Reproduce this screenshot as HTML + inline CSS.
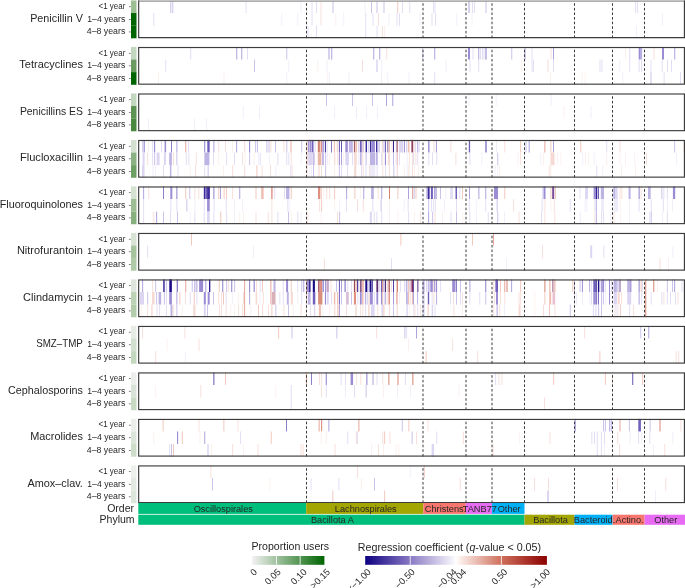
<!DOCTYPE html><html><head><meta charset="utf-8"><style>html,body{margin:0;padding:0;background:#fff;overflow:hidden}svg{display:block;filter:blur(0.25px)}</style></head><body><svg width="685" height="588" viewBox="0 0 685 588">
<rect width="685" height="588" fill="#fff"/>
<text x="82.9" y="21.60" font-size="10.5" text-anchor="end" textLength="52.699999999999996" lengthAdjust="spacingAndGlyphs" fill="#262626" font-family="Liberation Sans, sans-serif">Penicillin V</text>
<text x="125.3" y="9.05" font-size="8.3" text-anchor="end" textLength="26.7" lengthAdjust="spacingAndGlyphs" fill="#262626" font-family="Liberation Sans, sans-serif">&lt;1 year</text>
<rect x="128.9" y="6.40" width="1.8" height="0.7" fill="#444"/>
<rect x="131" y="0.45" width="5.5" height="12.65" fill="#9DBF94"/>
<text x="125.3" y="21.65" font-size="8.3" text-anchor="end" textLength="38.0" lengthAdjust="spacingAndGlyphs" fill="#262626" font-family="Liberation Sans, sans-serif">1–4 years</text>
<rect x="128.9" y="19.00" width="1.8" height="0.7" fill="#444"/>
<rect x="131" y="13.05" width="5.5" height="12.65" fill="#006400"/>
<text x="125.3" y="34.25" font-size="8.3" text-anchor="end" textLength="38.5" lengthAdjust="spacingAndGlyphs" fill="#262626" font-family="Liberation Sans, sans-serif">4–8 years</text>
<rect x="128.9" y="31.60" width="1.8" height="0.7" fill="#444"/>
<rect x="131" y="25.65" width="5.5" height="12.65" fill="#006400"/>
<rect x="170.40" y="0.45" width="0.8" height="12.60" fill="#BEB4E4"/>
<rect x="172.40" y="0.45" width="0.8" height="12.60" fill="#BEB4E4"/>
<rect x="245.60" y="0.45" width="0.8" height="12.60" fill="#DCD6F2"/>
<rect x="153.40" y="13.05" width="0.8" height="12.60" fill="#DCD6F2"/>
<rect x="300.60" y="0.45" width="0.8" height="12.60" fill="#EEEBF8"/>
<rect x="311.60" y="0.45" width="0.8" height="12.60" fill="#DCD6F2"/>
<rect x="316.00" y="0.45" width="0.8" height="12.60" fill="#DCD6F2"/>
<rect x="320.60" y="0.45" width="0.8" height="12.60" fill="#F6D9D2"/>
<rect x="332.60" y="0.45" width="0.8" height="12.60" fill="#BEB4E4"/>
<rect x="364.60" y="0.45" width="0.8" height="12.60" fill="#EEEBF8"/>
<rect x="371.00" y="0.45" width="0.8" height="12.60" fill="#BEB4E4"/>
<rect x="376.60" y="0.45" width="0.8" height="12.60" fill="#BEB4E4"/>
<rect x="383.60" y="0.45" width="0.8" height="12.60" fill="#BEB4E4"/>
<rect x="397.40" y="0.45" width="0.8" height="12.60" fill="#EEBCB0"/>
<rect x="402.20" y="0.45" width="0.8" height="12.60" fill="#DCD6F2"/>
<rect x="409.40" y="0.45" width="0.8" height="12.60" fill="#DCD6F2"/>
<rect x="281.40" y="13.05" width="0.8" height="12.60" fill="#EEEBF8"/>
<rect x="297.40" y="13.05" width="0.8" height="12.60" fill="#EEEBF8"/>
<rect x="311.60" y="13.05" width="0.8" height="12.60" fill="#DCD6F2"/>
<rect x="320.60" y="13.05" width="0.8" height="12.60" fill="#F6D9D2"/>
<rect x="335.40" y="13.05" width="0.8" height="12.60" fill="#FBEDEA"/>
<rect x="343.40" y="13.05" width="0.8" height="12.60" fill="#EEEBF8"/>
<rect x="365.40" y="13.05" width="0.8" height="12.60" fill="#DCD6F2"/>
<rect x="372.60" y="13.05" width="0.8" height="12.60" fill="#DCD6F2"/>
<rect x="378.20" y="13.05" width="0.8" height="12.60" fill="#F6D9D2"/>
<rect x="388.60" y="13.05" width="0.8" height="12.60" fill="#EEEBF8"/>
<rect x="396.60" y="13.05" width="0.8" height="12.60" fill="#DCD6F2"/>
<rect x="399.00" y="13.05" width="0.8" height="12.60" fill="#DCD6F2"/>
<rect x="307.60" y="25.65" width="0.8" height="12.60" fill="#DCD6F2"/>
<rect x="316.00" y="25.65" width="0.8" height="12.60" fill="#DCD6F2"/>
<rect x="365.40" y="25.65" width="0.8" height="12.60" fill="#DCD6F2"/>
<rect x="376.60" y="25.65" width="0.8" height="12.60" fill="#DCD6F2"/>
<rect x="382.20" y="25.65" width="0.8" height="12.60" fill="#F6D9D2"/>
<rect x="384.20" y="25.65" width="0.8" height="12.60" fill="#FBEDEA"/>
<rect x="433.00" y="0.45" width="0.8" height="12.60" fill="#DCD6F2"/>
<rect x="434.60" y="0.45" width="0.8" height="12.60" fill="#DCD6F2"/>
<rect x="468.60" y="0.45" width="0.8" height="12.60" fill="#9C8CD4"/>
<rect x="472.00" y="0.45" width="0.8" height="12.60" fill="#DCD6F2"/>
<rect x="474.00" y="0.45" width="0.8" height="12.60" fill="#DCD6F2"/>
<rect x="485.60" y="0.45" width="0.8" height="12.60" fill="#BEB4E4"/>
<rect x="419.60" y="13.05" width="0.8" height="12.60" fill="#EEEBF8"/>
<rect x="431.60" y="13.05" width="0.8" height="12.60" fill="#DCD6F2"/>
<rect x="435.00" y="13.05" width="0.8" height="12.60" fill="#DCD6F2"/>
<rect x="456.40" y="13.05" width="0.8" height="12.60" fill="#EEEBF8"/>
<rect x="471.60" y="13.05" width="0.8" height="12.60" fill="#EEEBF8"/>
<rect x="635.30" y="0.45" width="0.8" height="12.60" fill="#DCD6F2"/>
<rect x="637.30" y="0.45" width="0.8" height="12.60" fill="#DCD6F2"/>
<rect x="662.00" y="13.05" width="0.8" height="12.60" fill="#EEEBF8"/>
<rect x="635.90" y="25.65" width="0.8" height="12.60" fill="#EEEBF8"/>
<line x1="306.5" y1="38.05" x2="306.5" y2="1.60" stroke="#3a3a3a" stroke-width="1.0" stroke-dasharray="2.6 2.0"/>
<line x1="423.0" y1="38.05" x2="423.0" y2="1.60" stroke="#3a3a3a" stroke-width="1.0" stroke-dasharray="2.6 2.0"/>
<line x1="466.0" y1="38.05" x2="466.0" y2="1.60" stroke="#3a3a3a" stroke-width="1.0" stroke-dasharray="2.6 2.0"/>
<line x1="492.0" y1="38.05" x2="492.0" y2="1.60" stroke="#3a3a3a" stroke-width="1.0" stroke-dasharray="2.6 2.0"/>
<line x1="524.5" y1="38.05" x2="524.5" y2="1.60" stroke="#3a3a3a" stroke-width="1.0" stroke-dasharray="2.6 2.0"/>
<line x1="574.5" y1="38.05" x2="574.5" y2="1.60" stroke="#3a3a3a" stroke-width="1.0" stroke-dasharray="2.6 2.0"/>
<line x1="612.5" y1="38.05" x2="612.5" y2="1.60" stroke="#3a3a3a" stroke-width="1.0" stroke-dasharray="2.6 2.0"/>
<line x1="644.5" y1="38.05" x2="644.5" y2="1.60" stroke="#3a3a3a" stroke-width="1.0" stroke-dasharray="2.6 2.0"/>
<rect x="138.1" y="0" width="546.90" height="1.0" fill="#c4c4c4"/>
<rect x="139.2" y="1.0" width="544.70" height="0.8" fill="#9a9a9a"/>
<path d="M138.67,0.6 V37.67 H684.42 V0.6" fill="none" stroke="#3c3c3c" stroke-width="1.15"/>
<text x="82.9" y="68.12" font-size="10.5" text-anchor="end" textLength="63.6" lengthAdjust="spacingAndGlyphs" fill="#262626" font-family="Liberation Sans, sans-serif">Tetracyclines</text>
<text x="125.3" y="55.54" font-size="8.3" text-anchor="end" textLength="26.7" lengthAdjust="spacingAndGlyphs" fill="#262626" font-family="Liberation Sans, sans-serif">&lt;1 year</text>
<rect x="128.9" y="52.89" width="1.8" height="0.7" fill="#444"/>
<rect x="131" y="46.94" width="5.5" height="12.65" fill="#C3D6BF"/>
<text x="125.3" y="68.14" font-size="8.3" text-anchor="end" textLength="38.0" lengthAdjust="spacingAndGlyphs" fill="#262626" font-family="Liberation Sans, sans-serif">1–4 years</text>
<rect x="128.9" y="65.49" width="1.8" height="0.7" fill="#444"/>
<rect x="131" y="59.54" width="5.5" height="12.65" fill="#6A9A62"/>
<text x="125.3" y="80.74" font-size="8.3" text-anchor="end" textLength="38.5" lengthAdjust="spacingAndGlyphs" fill="#262626" font-family="Liberation Sans, sans-serif">4–8 years</text>
<rect x="128.9" y="78.09" width="1.8" height="0.7" fill="#444"/>
<rect x="131" y="72.14" width="5.5" height="12.65" fill="#006400"/>
<rect x="190.40" y="46.94" width="0.8" height="12.60" fill="#DCD6F2"/>
<rect x="236.40" y="46.94" width="0.8" height="12.60" fill="#9C8CD4"/>
<rect x="241.40" y="46.94" width="0.8" height="12.60" fill="#9C8CD4"/>
<rect x="247.20" y="46.94" width="0.8" height="12.60" fill="#DCD6F2"/>
<rect x="165.40" y="59.54" width="0.8" height="12.60" fill="#DCD6F2"/>
<rect x="254.00" y="59.54" width="0.8" height="12.60" fill="#BEB4E4"/>
<rect x="158.00" y="72.14" width="0.8" height="12.60" fill="#FBEDEA"/>
<rect x="223.60" y="72.14" width="0.8" height="12.60" fill="#FBEDEA"/>
<rect x="286.40" y="46.94" width="0.8" height="12.60" fill="#BEB4E4"/>
<rect x="328.60" y="46.94" width="0.8" height="12.60" fill="#9C8CD4"/>
<rect x="331.40" y="46.94" width="0.8" height="12.60" fill="#9C8CD4"/>
<rect x="373.40" y="46.94" width="0.8" height="12.60" fill="#9C8CD4"/>
<rect x="379.40" y="46.94" width="0.8" height="12.60" fill="#9C8CD4"/>
<rect x="386.40" y="46.94" width="0.8" height="12.60" fill="#F6D9D2"/>
<rect x="288.40" y="59.54" width="0.8" height="12.60" fill="#EEEBF8"/>
<rect x="317.40" y="59.54" width="0.8" height="12.60" fill="#FBEDEA"/>
<rect x="326.60" y="59.54" width="0.8" height="12.60" fill="#EEEBF8"/>
<rect x="362.00" y="59.54" width="0.8" height="12.60" fill="#F6D9D2"/>
<rect x="376.60" y="59.54" width="0.8" height="12.60" fill="#BEB4E4"/>
<rect x="381.40" y="59.54" width="0.8" height="12.60" fill="#EEEBF8"/>
<rect x="286.40" y="72.14" width="0.8" height="12.60" fill="#EEEBF8"/>
<rect x="327.40" y="72.14" width="0.8" height="12.60" fill="#FBEDEA"/>
<rect x="329.00" y="72.14" width="0.8" height="12.60" fill="#EEEBF8"/>
<rect x="348.60" y="72.14" width="0.8" height="12.60" fill="#EEEBF8"/>
<rect x="381.00" y="72.14" width="0.8" height="12.60" fill="#EEEBF8"/>
<rect x="387.40" y="72.14" width="0.8" height="12.60" fill="#EEEBF8"/>
<rect x="408.60" y="72.14" width="0.8" height="12.60" fill="#EEEBF8"/>
<rect x="422.40" y="46.94" width="0.8" height="12.60" fill="#BEB4E4"/>
<rect x="434.40" y="46.94" width="0.8" height="12.60" fill="#9C8CD4"/>
<rect x="468.00" y="46.94" width="2.0" height="12.60" fill="#9C8CD4"/>
<rect x="472.60" y="46.94" width="0.8" height="12.60" fill="#DCD6F2"/>
<rect x="478.40" y="46.94" width="0.8" height="12.60" fill="#9C8CD4"/>
<rect x="480.00" y="46.94" width="0.8" height="12.60" fill="#DCD6F2"/>
<rect x="482.00" y="46.94" width="0.8" height="12.60" fill="#DCD6F2"/>
<rect x="483.60" y="46.94" width="0.8" height="12.60" fill="#DCD6F2"/>
<rect x="485.60" y="46.94" width="0.8" height="12.60" fill="#7060BC"/>
<rect x="511.40" y="46.94" width="0.8" height="12.60" fill="#BEB4E4"/>
<rect x="524.60" y="46.94" width="0.8" height="12.60" fill="#9C8CD4"/>
<rect x="531.60" y="46.94" width="0.8" height="12.60" fill="#DCD6F2"/>
<rect x="445.60" y="59.54" width="0.8" height="12.60" fill="#EEEBF8"/>
<rect x="469.60" y="59.54" width="0.8" height="12.60" fill="#DCD6F2"/>
<rect x="478.40" y="59.54" width="0.8" height="12.60" fill="#DCD6F2"/>
<rect x="521.00" y="59.54" width="0.8" height="12.60" fill="#FBEDEA"/>
<rect x="531.60" y="59.54" width="0.8" height="12.60" fill="#DCD6F2"/>
<rect x="533.20" y="59.54" width="0.8" height="12.60" fill="#DCD6F2"/>
<rect x="547.00" y="59.54" width="2.0" height="12.60" fill="#FBEDEA"/>
<rect x="434.40" y="72.14" width="0.8" height="12.60" fill="#DCD6F2"/>
<rect x="550.60" y="46.94" width="0.8" height="12.60" fill="#F6D9D2"/>
<rect x="553.00" y="46.94" width="0.8" height="12.60" fill="#9C8CD4"/>
<rect x="625.00" y="46.94" width="0.8" height="12.60" fill="#FBEDEA"/>
<rect x="629.40" y="46.94" width="0.8" height="12.60" fill="#DCD6F2"/>
<rect x="638.70" y="46.94" width="2.0" height="12.60" fill="#9C8CD4"/>
<rect x="641.30" y="46.94" width="0.8" height="12.60" fill="#9C8CD4"/>
<rect x="653.60" y="46.94" width="0.8" height="12.60" fill="#F6D9D2"/>
<rect x="662.00" y="46.94" width="2.0" height="12.60" fill="#9C8CD4"/>
<rect x="674.40" y="46.94" width="0.8" height="12.60" fill="#9C8CD4"/>
<rect x="553.00" y="59.54" width="0.8" height="12.60" fill="#DCD6F2"/>
<rect x="599.60" y="59.54" width="0.8" height="12.60" fill="#DCD6F2"/>
<rect x="601.60" y="59.54" width="0.8" height="12.60" fill="#DCD6F2"/>
<rect x="619.40" y="59.54" width="0.8" height="12.60" fill="#EEEBF8"/>
<rect x="629.40" y="59.54" width="0.8" height="12.60" fill="#DCD6F2"/>
<rect x="638.70" y="59.54" width="0.8" height="12.60" fill="#DCD6F2"/>
<rect x="641.30" y="59.54" width="0.8" height="12.60" fill="#DCD6F2"/>
<rect x="650.60" y="59.54" width="0.8" height="12.60" fill="#DCD6F2"/>
<rect x="661.70" y="59.54" width="0.8" height="12.60" fill="#DCD6F2"/>
<rect x="667.00" y="59.54" width="0.8" height="12.60" fill="#DCD6F2"/>
<rect x="671.00" y="59.54" width="0.8" height="12.60" fill="#DCD6F2"/>
<rect x="550.00" y="72.14" width="0.8" height="12.60" fill="#FBEDEA"/>
<rect x="581.70" y="72.14" width="0.8" height="12.60" fill="#FBEDEA"/>
<rect x="584.70" y="72.14" width="0.8" height="12.60" fill="#FBEDEA"/>
<rect x="622.40" y="72.14" width="0.8" height="12.60" fill="#EEEBF8"/>
<rect x="650.60" y="72.14" width="0.8" height="12.60" fill="#BEB4E4"/>
<rect x="663.70" y="72.14" width="0.8" height="12.60" fill="#DCD6F2"/>
<rect x="680.00" y="72.14" width="0.8" height="12.60" fill="#DCD6F2"/>
<line x1="306.5" y1="84.54" x2="306.5" y2="48.09" stroke="#3a3a3a" stroke-width="1.0" stroke-dasharray="2.6 2.0"/>
<line x1="423.0" y1="84.54" x2="423.0" y2="48.09" stroke="#3a3a3a" stroke-width="1.0" stroke-dasharray="2.6 2.0"/>
<line x1="466.0" y1="84.54" x2="466.0" y2="48.09" stroke="#3a3a3a" stroke-width="1.0" stroke-dasharray="2.6 2.0"/>
<line x1="492.0" y1="84.54" x2="492.0" y2="48.09" stroke="#3a3a3a" stroke-width="1.0" stroke-dasharray="2.6 2.0"/>
<line x1="524.5" y1="84.54" x2="524.5" y2="48.09" stroke="#3a3a3a" stroke-width="1.0" stroke-dasharray="2.6 2.0"/>
<line x1="574.5" y1="84.54" x2="574.5" y2="48.09" stroke="#3a3a3a" stroke-width="1.0" stroke-dasharray="2.6 2.0"/>
<line x1="612.5" y1="84.54" x2="612.5" y2="48.09" stroke="#3a3a3a" stroke-width="1.0" stroke-dasharray="2.6 2.0"/>
<line x1="644.5" y1="84.54" x2="644.5" y2="48.09" stroke="#3a3a3a" stroke-width="1.0" stroke-dasharray="2.6 2.0"/>
<rect x="138.67" y="47.52" width="545.75" height="36.65" fill="none" stroke="#3c3c3c" stroke-width="1.15"/>
<text x="82.9" y="114.64" font-size="10.5" text-anchor="end" textLength="63.0" lengthAdjust="spacingAndGlyphs" fill="#262626" font-family="Liberation Sans, sans-serif">Penicillins ES</text>
<text x="125.3" y="102.03" font-size="8.3" text-anchor="end" textLength="26.7" lengthAdjust="spacingAndGlyphs" fill="#262626" font-family="Liberation Sans, sans-serif">&lt;1 year</text>
<rect x="128.9" y="99.38" width="1.8" height="0.7" fill="#444"/>
<rect x="131" y="93.43" width="5.5" height="12.65" fill="#C3D7BF"/>
<text x="125.3" y="114.63" font-size="8.3" text-anchor="end" textLength="38.0" lengthAdjust="spacingAndGlyphs" fill="#262626" font-family="Liberation Sans, sans-serif">1–4 years</text>
<rect x="128.9" y="111.98" width="1.8" height="0.7" fill="#444"/>
<rect x="131" y="106.03" width="5.5" height="12.65" fill="#5E9453"/>
<text x="125.3" y="127.23" font-size="8.3" text-anchor="end" textLength="38.5" lengthAdjust="spacingAndGlyphs" fill="#262626" font-family="Liberation Sans, sans-serif">4–8 years</text>
<rect x="128.9" y="124.58" width="1.8" height="0.7" fill="#444"/>
<rect x="131" y="118.63" width="5.5" height="12.65" fill="#4A8840"/>
<rect x="326.00" y="93.43" width="0.8" height="12.60" fill="#BEB4E4"/>
<rect x="352.00" y="93.43" width="0.8" height="12.60" fill="#BEB4E4"/>
<rect x="372.00" y="93.43" width="0.8" height="12.60" fill="#BEB4E4"/>
<rect x="386.00" y="93.43" width="0.8" height="12.60" fill="#9C8CD4"/>
<rect x="392.40" y="93.43" width="0.8" height="12.60" fill="#9C8CD4"/>
<rect x="242.80" y="106.03" width="0.8" height="12.60" fill="#EEEBF8"/>
<rect x="259.20" y="106.03" width="0.8" height="12.60" fill="#EEEBF8"/>
<rect x="334.00" y="106.03" width="0.8" height="12.60" fill="#EEEBF8"/>
<rect x="356.00" y="106.03" width="0.8" height="12.60" fill="#EEEBF8"/>
<rect x="366.00" y="106.03" width="0.8" height="12.60" fill="#EEEBF8"/>
<rect x="377.20" y="106.03" width="0.8" height="12.60" fill="#EEEBF8"/>
<rect x="148.00" y="118.63" width="0.8" height="12.60" fill="#EEEBF8"/>
<rect x="194.00" y="118.63" width="0.8" height="12.60" fill="#EEEBF8"/>
<rect x="206.00" y="118.63" width="0.8" height="12.60" fill="#EEEBF8"/>
<rect x="468.60" y="93.43" width="0.8" height="12.60" fill="#EEEBF8"/>
<rect x="495.70" y="93.43" width="0.8" height="12.60" fill="#EEEBF8"/>
<rect x="550.70" y="93.43" width="0.8" height="12.60" fill="#EEEBF8"/>
<rect x="563.50" y="106.03" width="0.8" height="12.60" fill="#FBEDEA"/>
<rect x="590.60" y="106.03" width="0.8" height="12.60" fill="#EEEBF8"/>
<line x1="306.5" y1="131.03" x2="306.5" y2="94.58" stroke="#3a3a3a" stroke-width="1.0" stroke-dasharray="2.6 2.0"/>
<line x1="423.0" y1="131.03" x2="423.0" y2="94.58" stroke="#3a3a3a" stroke-width="1.0" stroke-dasharray="2.6 2.0"/>
<line x1="466.0" y1="131.03" x2="466.0" y2="94.58" stroke="#3a3a3a" stroke-width="1.0" stroke-dasharray="2.6 2.0"/>
<line x1="492.0" y1="131.03" x2="492.0" y2="94.58" stroke="#3a3a3a" stroke-width="1.0" stroke-dasharray="2.6 2.0"/>
<line x1="524.5" y1="131.03" x2="524.5" y2="94.58" stroke="#3a3a3a" stroke-width="1.0" stroke-dasharray="2.6 2.0"/>
<line x1="574.5" y1="131.03" x2="574.5" y2="94.58" stroke="#3a3a3a" stroke-width="1.0" stroke-dasharray="2.6 2.0"/>
<line x1="612.5" y1="131.03" x2="612.5" y2="94.58" stroke="#3a3a3a" stroke-width="1.0" stroke-dasharray="2.6 2.0"/>
<line x1="644.5" y1="131.03" x2="644.5" y2="94.58" stroke="#3a3a3a" stroke-width="1.0" stroke-dasharray="2.6 2.0"/>
<rect x="138.67" y="94.01" width="545.75" height="36.65" fill="none" stroke="#3c3c3c" stroke-width="1.15"/>
<text x="82.9" y="161.16" font-size="10.5" text-anchor="end" textLength="63.0" lengthAdjust="spacingAndGlyphs" fill="#262626" font-family="Liberation Sans, sans-serif">Flucloxacillin</text>
<text x="125.3" y="148.52" font-size="8.3" text-anchor="end" textLength="26.7" lengthAdjust="spacingAndGlyphs" fill="#262626" font-family="Liberation Sans, sans-serif">&lt;1 year</text>
<rect x="128.9" y="145.87" width="1.8" height="0.7" fill="#444"/>
<rect x="131" y="139.92" width="5.5" height="12.65" fill="#D3E0D0"/>
<text x="125.3" y="161.12" font-size="8.3" text-anchor="end" textLength="38.0" lengthAdjust="spacingAndGlyphs" fill="#262626" font-family="Liberation Sans, sans-serif">1–4 years</text>
<rect x="128.9" y="158.47" width="1.8" height="0.7" fill="#444"/>
<rect x="131" y="152.52" width="5.5" height="12.65" fill="#8AB282"/>
<text x="125.3" y="173.72" font-size="8.3" text-anchor="end" textLength="38.5" lengthAdjust="spacingAndGlyphs" fill="#262626" font-family="Liberation Sans, sans-serif">4–8 years</text>
<rect x="128.9" y="171.07" width="1.8" height="0.7" fill="#444"/>
<rect x="131" y="165.12" width="5.5" height="12.65" fill="#6EA066"/>
<rect x="142.60" y="139.92" width="0.8" height="12.60" fill="#9C8CD4"/>
<rect x="144.00" y="139.92" width="0.8" height="12.60" fill="#9C8CD4"/>
<rect x="148.00" y="139.92" width="0.8" height="12.60" fill="#FBEDEA"/>
<rect x="152.30" y="139.92" width="0.8" height="12.60" fill="#DCD6F2"/>
<rect x="154.30" y="139.92" width="0.8" height="12.60" fill="#7060BC"/>
<rect x="161.20" y="139.92" width="0.8" height="12.60" fill="#DCD6F2"/>
<rect x="164.60" y="139.92" width="1.5" height="12.60" fill="#9C8CD4"/>
<rect x="171.20" y="139.92" width="0.8" height="12.60" fill="#7060BC"/>
<rect x="176.50" y="139.92" width="0.8" height="12.60" fill="#9C8CD4"/>
<rect x="185.40" y="139.92" width="0.8" height="12.60" fill="#E09080"/>
<rect x="188.20" y="139.92" width="0.8" height="12.60" fill="#DCD6F2"/>
<rect x="204.40" y="139.92" width="0.8" height="12.60" fill="#7060BC"/>
<rect x="207.30" y="139.92" width="2.4" height="12.60" fill="#7060BC"/>
<rect x="213.50" y="139.92" width="0.8" height="12.60" fill="#9C8CD4"/>
<rect x="218.40" y="139.92" width="0.8" height="12.60" fill="#F6D9D2"/>
<rect x="225.00" y="139.92" width="0.8" height="12.60" fill="#F6D9D2"/>
<rect x="142.60" y="152.52" width="2.0" height="12.60" fill="#DCD6F2"/>
<rect x="147.30" y="152.52" width="0.8" height="12.60" fill="#F6D9D2"/>
<rect x="152.30" y="152.52" width="0.8" height="12.60" fill="#DCD6F2"/>
<rect x="154.30" y="152.52" width="0.8" height="12.60" fill="#BEB4E4"/>
<rect x="156.60" y="152.52" width="3.0" height="12.60" fill="#DCD6F2"/>
<rect x="163.90" y="152.52" width="2.0" height="12.60" fill="#DCD6F2"/>
<rect x="169.20" y="152.52" width="2.7" height="12.60" fill="#BEB4E4"/>
<rect x="173.20" y="152.52" width="0.8" height="12.60" fill="#F6D9D2"/>
<rect x="176.50" y="152.52" width="0.8" height="12.60" fill="#BEB4E4"/>
<rect x="185.80" y="152.52" width="0.8" height="12.60" fill="#DCD6F2"/>
<rect x="188.50" y="152.52" width="0.8" height="12.60" fill="#DCD6F2"/>
<rect x="195.80" y="152.52" width="0.8" height="12.60" fill="#F6D9D2"/>
<rect x="204.40" y="152.52" width="5.0" height="12.60" fill="#BEB4E4"/>
<rect x="213.00" y="152.52" width="0.8" height="12.60" fill="#DCD6F2"/>
<rect x="218.40" y="152.52" width="0.8" height="12.60" fill="#FBEDEA"/>
<rect x="226.30" y="152.52" width="0.8" height="12.60" fill="#DCD6F2"/>
<rect x="142.00" y="165.12" width="2.5" height="12.60" fill="#DCD6F2"/>
<rect x="152.60" y="165.12" width="0.8" height="12.60" fill="#EEEBF8"/>
<rect x="155.30" y="165.12" width="0.8" height="12.60" fill="#EEEBF8"/>
<rect x="163.20" y="165.12" width="0.8" height="12.60" fill="#DCD6F2"/>
<rect x="169.90" y="165.12" width="1.5" height="12.60" fill="#BEB4E4"/>
<rect x="177.60" y="165.12" width="0.8" height="12.60" fill="#DCD6F2"/>
<rect x="189.80" y="165.12" width="0.8" height="12.60" fill="#FBEDEA"/>
<rect x="195.10" y="165.12" width="0.8" height="12.60" fill="#F6D9D2"/>
<rect x="204.40" y="165.12" width="0.8" height="12.60" fill="#DCD6F2"/>
<rect x="207.70" y="165.12" width="0.8" height="12.60" fill="#BEB4E4"/>
<rect x="223.00" y="165.12" width="0.8" height="12.60" fill="#FBEDEA"/>
<rect x="232.30" y="139.92" width="0.8" height="12.60" fill="#FBEDEA"/>
<rect x="236.30" y="139.92" width="0.8" height="12.60" fill="#9C8CD4"/>
<rect x="244.30" y="139.92" width="0.8" height="12.60" fill="#F6D9D2"/>
<rect x="249.30" y="139.92" width="0.8" height="12.60" fill="#7060BC"/>
<rect x="255.30" y="139.92" width="0.8" height="12.60" fill="#BEB4E4"/>
<rect x="257.20" y="139.92" width="0.8" height="12.60" fill="#BEB4E4"/>
<rect x="266.50" y="139.92" width="0.8" height="12.60" fill="#BEB4E4"/>
<rect x="268.60" y="139.92" width="0.8" height="12.60" fill="#BEB4E4"/>
<rect x="270.50" y="139.92" width="0.8" height="12.60" fill="#F6D9D2"/>
<rect x="275.20" y="139.92" width="0.8" height="12.60" fill="#BEB4E4"/>
<rect x="283.50" y="139.92" width="0.8" height="12.60" fill="#F6D9D2"/>
<rect x="286.40" y="139.92" width="0.8" height="12.60" fill="#BEB4E4"/>
<rect x="290.40" y="139.92" width="1.2" height="12.60" fill="#EEBCB0"/>
<rect x="301.40" y="139.92" width="0.8" height="12.60" fill="#BEB4E4"/>
<rect x="234.00" y="152.52" width="0.8" height="12.60" fill="#DCD6F2"/>
<rect x="242.30" y="152.52" width="0.8" height="12.60" fill="#F6D9D2"/>
<rect x="244.70" y="152.52" width="0.8" height="12.60" fill="#FBEDEA"/>
<rect x="249.30" y="152.52" width="0.8" height="12.60" fill="#BEB4E4"/>
<rect x="253.60" y="152.52" width="0.8" height="12.60" fill="#FBEDEA"/>
<rect x="258.00" y="152.52" width="0.8" height="12.60" fill="#EEEBF8"/>
<rect x="259.80" y="152.52" width="0.8" height="12.60" fill="#DCD6F2"/>
<rect x="268.90" y="152.52" width="0.8" height="12.60" fill="#EEEBF8"/>
<rect x="277.50" y="152.52" width="0.8" height="12.60" fill="#DCD6F2"/>
<rect x="286.40" y="152.52" width="0.8" height="12.60" fill="#DCD6F2"/>
<rect x="288.50" y="152.52" width="0.8" height="12.60" fill="#DCD6F2"/>
<rect x="290.80" y="152.52" width="0.8" height="12.60" fill="#F6D9D2"/>
<rect x="300.70" y="152.52" width="0.8" height="12.60" fill="#EEEBF8"/>
<rect x="232.30" y="165.12" width="0.8" height="12.60" fill="#F6D9D2"/>
<rect x="244.30" y="165.12" width="0.8" height="12.60" fill="#F6D9D2"/>
<rect x="256.20" y="165.12" width="1.4" height="12.60" fill="#F6D9D2"/>
<rect x="260.90" y="165.12" width="0.8" height="12.60" fill="#FBEDEA"/>
<rect x="262.20" y="165.12" width="0.8" height="12.60" fill="#FBEDEA"/>
<rect x="270.20" y="165.12" width="0.8" height="12.60" fill="#F6D9D2"/>
<rect x="275.50" y="165.12" width="0.8" height="12.60" fill="#EEEBF8"/>
<rect x="290.40" y="165.12" width="0.8" height="12.60" fill="#DCD6F2"/>
<rect x="291.70" y="165.12" width="0.8" height="12.60" fill="#F6D9D2"/>
<rect x="450.50" y="139.92" width="0.8" height="12.60" fill="#F6D9D2"/>
<rect x="468.80" y="139.92" width="1.3" height="12.60" fill="#7060BC"/>
<rect x="485.40" y="139.92" width="1.2" height="12.60" fill="#7060BC"/>
<rect x="496.00" y="139.92" width="0.8" height="12.60" fill="#EEEBF8"/>
<rect x="455.50" y="152.52" width="0.8" height="12.60" fill="#F6D9D2"/>
<rect x="469.50" y="152.52" width="0.8" height="12.60" fill="#DCD6F2"/>
<rect x="481.40" y="152.52" width="0.8" height="12.60" fill="#EEEBF8"/>
<rect x="497.40" y="152.52" width="0.8" height="12.60" fill="#BEB4E4"/>
<rect x="494.70" y="165.12" width="0.8" height="12.60" fill="#EEEBF8"/>
<rect x="497.40" y="165.12" width="0.8" height="12.60" fill="#EEEBF8"/>
<rect x="499.30" y="165.12" width="0.8" height="12.60" fill="#FBEDEA"/>
<rect x="504.40" y="139.92" width="0.8" height="12.60" fill="#F6D9D2"/>
<rect x="520.30" y="139.92" width="0.8" height="12.60" fill="#EEBCB0"/>
<rect x="525.60" y="139.92" width="0.8" height="12.60" fill="#BEB4E4"/>
<rect x="528.60" y="139.92" width="1.3" height="12.60" fill="#BEB4E4"/>
<rect x="544.50" y="139.92" width="0.8" height="12.60" fill="#E09080"/>
<rect x="550.50" y="139.92" width="0.8" height="12.60" fill="#EEBCB0"/>
<rect x="553.10" y="139.92" width="0.8" height="12.60" fill="#9C8CD4"/>
<rect x="580.40" y="139.92" width="0.8" height="12.60" fill="#EEBCB0"/>
<rect x="517.70" y="152.52" width="0.8" height="12.60" fill="#FBEDEA"/>
<rect x="520.30" y="152.52" width="0.8" height="12.60" fill="#F6D9D2"/>
<rect x="540.50" y="152.52" width="0.8" height="12.60" fill="#EEEBF8"/>
<rect x="543.20" y="152.52" width="0.8" height="12.60" fill="#FBEDEA"/>
<rect x="550.50" y="152.52" width="4.0" height="12.60" fill="#F6D9D2"/>
<rect x="557.10" y="152.52" width="0.8" height="12.60" fill="#FBEDEA"/>
<rect x="560.50" y="152.52" width="0.8" height="12.60" fill="#FBEDEA"/>
<rect x="582.40" y="152.52" width="0.8" height="12.60" fill="#EEEBF8"/>
<rect x="585.00" y="152.52" width="0.8" height="12.60" fill="#FBEDEA"/>
<rect x="588.40" y="152.52" width="0.8" height="12.60" fill="#FBEDEA"/>
<rect x="548.50" y="165.12" width="2.7" height="12.60" fill="#FBEDEA"/>
<rect x="606.40" y="139.92" width="0.8" height="12.60" fill="#DCD6F2"/>
<rect x="619.60" y="139.92" width="0.8" height="12.60" fill="#F6D9D2"/>
<rect x="674.30" y="139.92" width="0.8" height="12.60" fill="#BEB4E4"/>
<rect x="683.00" y="139.92" width="0.8" height="12.60" fill="#FBEDEA"/>
<rect x="593.70" y="152.52" width="0.8" height="12.60" fill="#EEEBF8"/>
<rect x="606.40" y="152.52" width="0.8" height="12.60" fill="#FBEDEA"/>
<rect x="619.60" y="152.52" width="0.8" height="12.60" fill="#FBEDEA"/>
<rect x="625.00" y="152.52" width="0.8" height="12.60" fill="#FBEDEA"/>
<rect x="634.40" y="152.52" width="0.8" height="12.60" fill="#FBEDEA"/>
<rect x="646.00" y="152.52" width="0.8" height="12.60" fill="#F6D9D2"/>
<rect x="676.30" y="152.52" width="0.8" height="12.60" fill="#EEEBF8"/>
<rect x="596.40" y="165.12" width="0.8" height="12.60" fill="#DCD6F2"/>
<rect x="602.40" y="165.12" width="0.8" height="12.60" fill="#EEEBF8"/>
<rect x="621.20" y="165.12" width="0.8" height="12.60" fill="#FBEDEA"/>
<rect x="635.30" y="165.12" width="0.8" height="12.60" fill="#FBEDEA"/>
<rect x="306.70" y="139.92" width="0.8" height="12.60" fill="#EEBCB0"/>
<rect x="308.10" y="139.92" width="1.4" height="12.60" fill="#9C8CD4"/>
<rect x="309.90" y="139.92" width="1.4" height="12.60" fill="#9C8CD4"/>
<rect x="311.70" y="139.92" width="1.8" height="12.60" fill="#7060BC"/>
<rect x="314.60" y="139.92" width="1.0" height="12.60" fill="#DCD6F2"/>
<rect x="317.80" y="139.92" width="2.1" height="12.60" fill="#D08070"/>
<rect x="320.60" y="139.92" width="1.4" height="12.60" fill="#E09080"/>
<rect x="322.40" y="139.92" width="1.4" height="12.60" fill="#9C8CD4"/>
<rect x="324.90" y="139.92" width="1.0" height="12.60" fill="#3C2C9C"/>
<rect x="326.70" y="139.92" width="0.8" height="12.60" fill="#DCD6F2"/>
<rect x="331.00" y="139.92" width="0.8" height="12.60" fill="#7060BC"/>
<rect x="333.90" y="139.92" width="1.0" height="12.60" fill="#EEBCB0"/>
<rect x="336.70" y="139.92" width="1.4" height="12.60" fill="#F6D9D2"/>
<rect x="338.90" y="139.92" width="1.1" height="12.60" fill="#7060BC"/>
<rect x="341.00" y="139.92" width="0.8" height="12.60" fill="#3C2C9C"/>
<rect x="345.30" y="139.92" width="2.5" height="12.60" fill="#9C8CD4"/>
<rect x="348.90" y="139.92" width="2.0" height="12.60" fill="#BEB4E4"/>
<rect x="306.70" y="152.52" width="0.8" height="12.60" fill="#EEBCB0"/>
<rect x="308.10" y="152.52" width="4.7" height="12.60" fill="#DCD6F2"/>
<rect x="313.10" y="152.52" width="1.5" height="12.60" fill="#BEB4E4"/>
<rect x="317.80" y="152.52" width="3.6" height="12.60" fill="#EBB8A8"/>
<rect x="322.10" y="152.52" width="1.8" height="12.60" fill="#BEB4E4"/>
<rect x="325.30" y="152.52" width="0.8" height="12.60" fill="#BEB4E4"/>
<rect x="327.10" y="152.52" width="0.8" height="12.60" fill="#EEEBF8"/>
<rect x="328.90" y="152.52" width="0.8" height="12.60" fill="#FBEDEA"/>
<rect x="334.20" y="152.52" width="1.1" height="12.60" fill="#F6D9D2"/>
<rect x="337.40" y="152.52" width="0.8" height="12.60" fill="#F6D9D2"/>
<rect x="338.90" y="152.52" width="1.0" height="12.60" fill="#9C8CD4"/>
<rect x="341.00" y="152.52" width="0.8" height="12.60" fill="#9C8CD4"/>
<rect x="342.80" y="152.52" width="0.8" height="12.60" fill="#FBEDEA"/>
<rect x="345.30" y="152.52" width="3.6" height="12.60" fill="#DCD6F2"/>
<rect x="306.70" y="165.12" width="0.8" height="12.60" fill="#F6D9D2"/>
<rect x="308.90" y="165.12" width="0.8" height="12.60" fill="#EEEBF8"/>
<rect x="311.00" y="165.12" width="0.8" height="12.60" fill="#EEEBF8"/>
<rect x="313.10" y="165.12" width="0.8" height="12.60" fill="#BEB4E4"/>
<rect x="318.50" y="165.12" width="1.1" height="12.60" fill="#F6D9D2"/>
<rect x="321.00" y="165.12" width="0.8" height="12.60" fill="#F6D9D2"/>
<rect x="325.30" y="165.12" width="0.8" height="12.60" fill="#BEB4E4"/>
<rect x="334.20" y="165.12" width="0.8" height="12.60" fill="#FBEDEA"/>
<rect x="338.90" y="165.12" width="0.8" height="12.60" fill="#BEB4E4"/>
<rect x="341.00" y="165.12" width="0.8" height="12.60" fill="#DCD6F2"/>
<rect x="347.10" y="165.12" width="0.8" height="12.60" fill="#DCD6F2"/>
<rect x="351.00" y="139.92" width="1.8" height="12.60" fill="#BEB4E4"/>
<rect x="353.90" y="139.92" width="1.1" height="12.60" fill="#A06070"/>
<rect x="355.30" y="139.92" width="1.8" height="12.60" fill="#EEBCB0"/>
<rect x="358.10" y="139.92" width="1.1" height="12.60" fill="#DCD6F2"/>
<rect x="359.90" y="139.92" width="1.8" height="12.60" fill="#7060BC"/>
<rect x="362.10" y="139.92" width="1.8" height="12.60" fill="#E0C8D8"/>
<rect x="365.60" y="139.92" width="1.4" height="12.60" fill="#3C2C9C"/>
<rect x="367.80" y="139.92" width="1.1" height="12.60" fill="#DCD6F2"/>
<rect x="369.90" y="139.92" width="1.4" height="12.60" fill="#3C2C9C"/>
<rect x="371.40" y="139.92" width="3.5" height="12.60" fill="#9C8CD4"/>
<rect x="376.00" y="139.92" width="1.4" height="12.60" fill="#3C2C9C"/>
<rect x="378.50" y="139.92" width="1.1" height="12.60" fill="#BEB4E4"/>
<rect x="381.70" y="139.92" width="1.1" height="12.60" fill="#F6D9D2"/>
<rect x="383.50" y="139.92" width="0.8" height="12.60" fill="#BEB4E4"/>
<rect x="384.90" y="139.92" width="1.1" height="12.60" fill="#7060BC"/>
<rect x="387.10" y="139.92" width="1.4" height="12.60" fill="#A890B0"/>
<rect x="388.90" y="139.92" width="1.0" height="12.60" fill="#EEBCB0"/>
<rect x="391.70" y="139.92" width="0.8" height="12.60" fill="#F6D9D2"/>
<rect x="393.10" y="139.92" width="0.9" height="12.60" fill="#1A0A85"/>
<rect x="395.60" y="139.92" width="0.8" height="12.60" fill="#FBEDEA"/>
<rect x="352.10" y="152.52" width="0.8" height="12.60" fill="#DCD6F2"/>
<rect x="354.20" y="152.52" width="2.5" height="12.60" fill="#F6D9D2"/>
<rect x="358.10" y="152.52" width="0.8" height="12.60" fill="#EEEBF8"/>
<rect x="359.90" y="152.52" width="1.8" height="12.60" fill="#BEB4E4"/>
<rect x="362.40" y="152.52" width="0.8" height="12.60" fill="#F6D9D2"/>
<rect x="365.30" y="152.52" width="1.8" height="12.60" fill="#DCD6F2"/>
<rect x="369.90" y="152.52" width="5.4" height="12.60" fill="#BEB4E4"/>
<rect x="376.00" y="152.52" width="1.8" height="12.60" fill="#BEB4E4"/>
<rect x="381.00" y="152.52" width="0.8" height="12.60" fill="#DCD6F2"/>
<rect x="382.40" y="152.52" width="0.8" height="12.60" fill="#F6D9D2"/>
<rect x="384.90" y="152.52" width="1.1" height="12.60" fill="#9C8CD4"/>
<rect x="388.10" y="152.52" width="1.8" height="12.60" fill="#F6D9D2"/>
<rect x="393.10" y="152.52" width="0.9" height="12.60" fill="#BEB4E4"/>
<rect x="395.60" y="152.52" width="0.8" height="12.60" fill="#FBEDEA"/>
<rect x="354.20" y="165.12" width="2.1" height="12.60" fill="#F6D9D2"/>
<rect x="361.00" y="165.12" width="0.8" height="12.60" fill="#DCD6F2"/>
<rect x="362.80" y="165.12" width="0.8" height="12.60" fill="#F6D9D2"/>
<rect x="365.60" y="165.12" width="0.8" height="12.60" fill="#DCD6F2"/>
<rect x="369.20" y="165.12" width="0.8" height="12.60" fill="#F6D9D2"/>
<rect x="369.90" y="165.12" width="5.4" height="12.60" fill="#EEEBF8"/>
<rect x="376.70" y="165.12" width="0.8" height="12.60" fill="#DCD6F2"/>
<rect x="382.40" y="165.12" width="0.8" height="12.60" fill="#F6D9D2"/>
<rect x="385.30" y="165.12" width="0.8" height="12.60" fill="#DCD6F2"/>
<rect x="388.90" y="165.12" width="0.8" height="12.60" fill="#F6D9D2"/>
<rect x="393.50" y="165.12" width="0.8" height="12.60" fill="#BEB4E4"/>
<rect x="396.00" y="139.92" width="0.7" height="12.60" fill="#BEB4E4"/>
<rect x="396.70" y="139.92" width="1.1" height="12.60" fill="#B06068"/>
<rect x="398.90" y="139.92" width="4.2" height="12.60" fill="#DCD6F2"/>
<rect x="403.90" y="139.92" width="1.0" height="12.60" fill="#9C8CD4"/>
<rect x="406.00" y="139.92" width="1.4" height="12.60" fill="#DCD6F2"/>
<rect x="408.10" y="139.92" width="1.4" height="12.60" fill="#EEBCB0"/>
<rect x="411.40" y="139.92" width="1.8" height="12.60" fill="#904060"/>
<rect x="413.50" y="139.92" width="1.1" height="12.60" fill="#F6D9D2"/>
<rect x="414.90" y="139.92" width="0.8" height="12.60" fill="#DCD6F2"/>
<rect x="417.10" y="139.92" width="1.0" height="12.60" fill="#BEB4E4"/>
<rect x="418.50" y="139.92" width="1.1" height="12.60" fill="#DCD6F2"/>
<rect x="428.10" y="139.92" width="1.4" height="12.60" fill="#9C8CD4"/>
<rect x="433.50" y="139.92" width="0.8" height="12.60" fill="#F6D9D2"/>
<rect x="434.60" y="139.92" width="0.8" height="12.60" fill="#EEEBF8"/>
<rect x="436.00" y="139.92" width="0.8" height="12.60" fill="#9C8CD4"/>
<rect x="396.40" y="152.52" width="0.8" height="12.60" fill="#DCD6F2"/>
<rect x="397.10" y="152.52" width="0.8" height="12.60" fill="#EEBCB0"/>
<rect x="399.20" y="152.52" width="0.8" height="12.60" fill="#DCD6F2"/>
<rect x="406.70" y="152.52" width="0.8" height="12.60" fill="#EEEBF8"/>
<rect x="408.90" y="152.52" width="0.8" height="12.60" fill="#F6D9D2"/>
<rect x="412.10" y="152.52" width="0.8" height="12.60" fill="#F6D9D2"/>
<rect x="413.10" y="152.52" width="0.8" height="12.60" fill="#DCD6F2"/>
<rect x="414.60" y="152.52" width="2.0" height="12.60" fill="#FBEDEA"/>
<rect x="417.40" y="152.52" width="0.8" height="12.60" fill="#DCD6F2"/>
<rect x="428.50" y="152.52" width="0.8" height="12.60" fill="#DCD6F2"/>
<rect x="432.10" y="152.52" width="0.8" height="12.60" fill="#DCD6F2"/>
<rect x="436.40" y="152.52" width="0.8" height="12.60" fill="#DCD6F2"/>
<rect x="396.40" y="165.12" width="0.8" height="12.60" fill="#EEEBF8"/>
<rect x="397.10" y="165.12" width="0.8" height="12.60" fill="#F6D9D2"/>
<rect x="403.90" y="165.12" width="0.8" height="12.60" fill="#FBEDEA"/>
<rect x="406.70" y="165.12" width="0.8" height="12.60" fill="#EEEBF8"/>
<rect x="408.50" y="165.12" width="0.8" height="12.60" fill="#F6D9D2"/>
<rect x="412.10" y="165.12" width="0.8" height="12.60" fill="#F6D9D2"/>
<rect x="414.20" y="165.12" width="0.8" height="12.60" fill="#FBEDEA"/>
<rect x="418.10" y="165.12" width="0.8" height="12.60" fill="#FBEDEA"/>
<line x1="306.5" y1="177.52" x2="306.5" y2="141.07" stroke="#3a3a3a" stroke-width="1.0" stroke-dasharray="2.6 2.0"/>
<line x1="423.0" y1="177.52" x2="423.0" y2="141.07" stroke="#3a3a3a" stroke-width="1.0" stroke-dasharray="2.6 2.0"/>
<line x1="466.0" y1="177.52" x2="466.0" y2="141.07" stroke="#3a3a3a" stroke-width="1.0" stroke-dasharray="2.6 2.0"/>
<line x1="492.0" y1="177.52" x2="492.0" y2="141.07" stroke="#3a3a3a" stroke-width="1.0" stroke-dasharray="2.6 2.0"/>
<line x1="524.5" y1="177.52" x2="524.5" y2="141.07" stroke="#3a3a3a" stroke-width="1.0" stroke-dasharray="2.6 2.0"/>
<line x1="574.5" y1="177.52" x2="574.5" y2="141.07" stroke="#3a3a3a" stroke-width="1.0" stroke-dasharray="2.6 2.0"/>
<line x1="612.5" y1="177.52" x2="612.5" y2="141.07" stroke="#3a3a3a" stroke-width="1.0" stroke-dasharray="2.6 2.0"/>
<line x1="644.5" y1="177.52" x2="644.5" y2="141.07" stroke="#3a3a3a" stroke-width="1.0" stroke-dasharray="2.6 2.0"/>
<rect x="138.67" y="140.49" width="545.75" height="36.65" fill="none" stroke="#3c3c3c" stroke-width="1.15"/>
<text x="82.9" y="207.68" font-size="10.5" text-anchor="end" textLength="83.2" lengthAdjust="spacingAndGlyphs" fill="#262626" font-family="Liberation Sans, sans-serif">Fluoroquinolones</text>
<text x="125.3" y="195.01" font-size="8.3" text-anchor="end" textLength="26.7" lengthAdjust="spacingAndGlyphs" fill="#262626" font-family="Liberation Sans, sans-serif">&lt;1 year</text>
<rect x="128.9" y="192.36" width="1.8" height="0.7" fill="#444"/>
<rect x="131" y="186.41" width="5.5" height="12.65" fill="#D5E2D2"/>
<text x="125.3" y="207.61" font-size="8.3" text-anchor="end" textLength="38.0" lengthAdjust="spacingAndGlyphs" fill="#262626" font-family="Liberation Sans, sans-serif">1–4 years</text>
<rect x="128.9" y="204.96" width="1.8" height="0.7" fill="#444"/>
<rect x="131" y="199.01" width="5.5" height="12.65" fill="#9DBE95"/>
<text x="125.3" y="220.21" font-size="8.3" text-anchor="end" textLength="38.5" lengthAdjust="spacingAndGlyphs" fill="#262626" font-family="Liberation Sans, sans-serif">4–8 years</text>
<rect x="128.9" y="217.56" width="1.8" height="0.7" fill="#444"/>
<rect x="131" y="211.61" width="5.5" height="12.65" fill="#87B07F"/>
<rect x="143.30" y="186.41" width="0.8" height="12.60" fill="#9C8CD4"/>
<rect x="148.40" y="186.41" width="0.8" height="12.60" fill="#F6D9D2"/>
<rect x="163.20" y="186.41" width="0.8" height="12.60" fill="#7060BC"/>
<rect x="170.30" y="186.41" width="2.0" height="12.60" fill="#9C8CD4"/>
<rect x="176.50" y="186.41" width="0.8" height="12.60" fill="#7060BC"/>
<rect x="185.40" y="186.41" width="0.8" height="12.60" fill="#EEBCB0"/>
<rect x="189.40" y="186.41" width="0.8" height="12.60" fill="#BEB4E4"/>
<rect x="194.50" y="186.41" width="0.8" height="12.60" fill="#F6D9D2"/>
<rect x="198.40" y="186.41" width="0.8" height="12.60" fill="#F6D9D2"/>
<rect x="203.80" y="186.41" width="1.5" height="12.60" fill="#3C2C9C"/>
<rect x="205.30" y="186.41" width="1.8" height="12.60" fill="#7060BC"/>
<rect x="207.10" y="186.41" width="2.8" height="12.60" fill="#3C2C9C"/>
<rect x="213.50" y="186.41" width="0.8" height="12.60" fill="#7060BC"/>
<rect x="218.40" y="186.41" width="0.8" height="12.60" fill="#EEBCB0"/>
<rect x="220.10" y="186.41" width="0.8" height="12.60" fill="#9C8CD4"/>
<rect x="223.70" y="186.41" width="0.8" height="12.60" fill="#EEBCB0"/>
<rect x="226.00" y="186.41" width="0.8" height="12.60" fill="#EEBCB0"/>
<rect x="143.30" y="199.01" width="0.8" height="12.60" fill="#DCD6F2"/>
<rect x="170.50" y="199.01" width="0.8" height="12.60" fill="#DCD6F2"/>
<rect x="176.50" y="199.01" width="0.8" height="12.60" fill="#DCD6F2"/>
<rect x="186.50" y="199.01" width="0.8" height="12.60" fill="#BEB4E4"/>
<rect x="194.50" y="199.01" width="0.8" height="12.60" fill="#EEEBF8"/>
<rect x="203.80" y="199.01" width="0.8" height="12.60" fill="#DCD6F2"/>
<rect x="207.10" y="199.01" width="2.6" height="12.60" fill="#9C8CD4"/>
<rect x="213.70" y="199.01" width="0.8" height="12.60" fill="#DCD6F2"/>
<rect x="225.70" y="199.01" width="0.8" height="12.60" fill="#DCD6F2"/>
<rect x="143.30" y="211.61" width="0.8" height="12.60" fill="#DCD6F2"/>
<rect x="152.60" y="211.61" width="2.0" height="12.60" fill="#FBEDEA"/>
<rect x="156.30" y="211.61" width="0.8" height="12.60" fill="#9C8CD4"/>
<rect x="163.20" y="211.61" width="0.8" height="12.60" fill="#BEB4E4"/>
<rect x="170.20" y="211.61" width="0.8" height="12.60" fill="#DCD6F2"/>
<rect x="177.20" y="211.61" width="0.8" height="12.60" fill="#BEB4E4"/>
<rect x="189.80" y="211.61" width="0.8" height="12.60" fill="#EEEBF8"/>
<rect x="194.50" y="211.61" width="0.8" height="12.60" fill="#DCD6F2"/>
<rect x="203.80" y="211.61" width="0.8" height="12.60" fill="#DCD6F2"/>
<rect x="207.10" y="211.61" width="2.6" height="12.60" fill="#DCD6F2"/>
<rect x="213.50" y="211.61" width="0.8" height="12.60" fill="#DCD6F2"/>
<rect x="220.40" y="211.61" width="0.8" height="12.60" fill="#EEBCB0"/>
<rect x="226.30" y="211.61" width="0.8" height="12.60" fill="#DCD6F2"/>
<rect x="232.30" y="186.41" width="0.8" height="12.60" fill="#F6D9D2"/>
<rect x="239.40" y="186.41" width="0.8" height="12.60" fill="#9C8CD4"/>
<rect x="255.60" y="186.41" width="0.8" height="12.60" fill="#EEBCB0"/>
<rect x="261.20" y="186.41" width="2.4" height="12.60" fill="#EEBCB0"/>
<rect x="271.20" y="186.41" width="1.4" height="12.60" fill="#E09080"/>
<rect x="274.40" y="186.41" width="0.8" height="12.60" fill="#DCD6F2"/>
<rect x="284.10" y="186.41" width="0.8" height="12.60" fill="#DCD6F2"/>
<rect x="286.10" y="186.41" width="3.3" height="12.60" fill="#BEB4E4"/>
<rect x="290.80" y="186.41" width="0.8" height="12.60" fill="#EEBCB0"/>
<rect x="318.00" y="186.41" width="2.0" height="12.60" fill="#E09080"/>
<rect x="234.00" y="199.01" width="0.8" height="12.60" fill="#EEEBF8"/>
<rect x="242.30" y="199.01" width="0.8" height="12.60" fill="#EEEBF8"/>
<rect x="271.50" y="199.01" width="0.8" height="12.60" fill="#F6D9D2"/>
<rect x="287.50" y="199.01" width="0.8" height="12.60" fill="#DCD6F2"/>
<rect x="289.40" y="199.01" width="0.8" height="12.60" fill="#EEEBF8"/>
<rect x="319.30" y="199.01" width="0.8" height="12.60" fill="#F6D9D2"/>
<rect x="234.00" y="211.61" width="0.8" height="12.60" fill="#EEEBF8"/>
<rect x="239.40" y="211.61" width="0.8" height="12.60" fill="#FBEDEA"/>
<rect x="243.00" y="211.61" width="0.8" height="12.60" fill="#FBEDEA"/>
<rect x="255.60" y="211.61" width="0.8" height="12.60" fill="#F6D9D2"/>
<rect x="267.80" y="211.61" width="0.8" height="12.60" fill="#F6D9D2"/>
<rect x="271.50" y="211.61" width="0.8" height="12.60" fill="#F6D9D2"/>
<rect x="277.50" y="211.61" width="0.8" height="12.60" fill="#DCD6F2"/>
<rect x="288.10" y="211.61" width="0.8" height="12.60" fill="#BEB4E4"/>
<rect x="290.80" y="211.61" width="0.8" height="12.60" fill="#FBEDEA"/>
<rect x="297.40" y="211.61" width="0.8" height="12.60" fill="#DCD6F2"/>
<rect x="300.70" y="211.61" width="0.8" height="12.60" fill="#EEEBF8"/>
<rect x="307.40" y="211.61" width="0.8" height="12.60" fill="#F6D9D2"/>
<rect x="320.00" y="186.41" width="2.0" height="12.60" fill="#F6D9D2"/>
<rect x="323.30" y="186.41" width="0.8" height="12.60" fill="#FBEDEA"/>
<rect x="326.40" y="186.41" width="0.8" height="12.60" fill="#F6D9D2"/>
<rect x="329.30" y="186.41" width="0.8" height="12.60" fill="#F6D9D2"/>
<rect x="334.30" y="186.41" width="0.8" height="12.60" fill="#EEBCB0"/>
<rect x="346.30" y="186.41" width="0.8" height="12.60" fill="#9C8CD4"/>
<rect x="354.50" y="186.41" width="0.8" height="12.60" fill="#EEBCB0"/>
<rect x="359.90" y="186.41" width="0.8" height="12.60" fill="#FBEDEA"/>
<rect x="363.40" y="186.41" width="0.8" height="12.60" fill="#9C8CD4"/>
<rect x="371.10" y="186.41" width="2.7" height="12.60" fill="#BEB4E4"/>
<rect x="377.80" y="186.41" width="0.8" height="12.60" fill="#F6D9D2"/>
<rect x="381.40" y="186.41" width="0.8" height="12.60" fill="#9C8CD4"/>
<rect x="389.10" y="186.41" width="0.8" height="12.60" fill="#CC6650"/>
<rect x="397.50" y="186.41" width="0.8" height="12.60" fill="#EEBCB0"/>
<rect x="408.00" y="186.41" width="0.8" height="12.60" fill="#9C8CD4"/>
<rect x="321.30" y="199.01" width="0.8" height="12.60" fill="#EEBCB0"/>
<rect x="334.30" y="199.01" width="0.8" height="12.60" fill="#FBEDEA"/>
<rect x="339.30" y="199.01" width="0.8" height="12.60" fill="#EEEBF8"/>
<rect x="345.90" y="199.01" width="0.8" height="12.60" fill="#DCD6F2"/>
<rect x="357.20" y="199.01" width="0.8" height="12.60" fill="#F6D9D2"/>
<rect x="362.80" y="199.01" width="0.8" height="12.60" fill="#F6D9D2"/>
<rect x="372.50" y="199.01" width="0.8" height="12.60" fill="#DCD6F2"/>
<rect x="380.40" y="199.01" width="1.5" height="12.60" fill="#DCD6F2"/>
<rect x="389.10" y="199.01" width="0.8" height="12.60" fill="#FBEDEA"/>
<rect x="403.70" y="199.01" width="0.8" height="12.60" fill="#EEEBF8"/>
<rect x="407.70" y="199.01" width="0.8" height="12.60" fill="#DCD6F2"/>
<rect x="320.70" y="211.61" width="0.8" height="12.60" fill="#FBEDEA"/>
<rect x="337.30" y="211.61" width="0.8" height="12.60" fill="#F6D9D2"/>
<rect x="339.30" y="211.61" width="0.8" height="12.60" fill="#BEB4E4"/>
<rect x="369.80" y="211.61" width="2.0" height="12.60" fill="#DCD6F2"/>
<rect x="373.80" y="211.61" width="0.8" height="12.60" fill="#DCD6F2"/>
<rect x="376.50" y="211.61" width="0.8" height="12.60" fill="#DCD6F2"/>
<rect x="381.40" y="211.61" width="0.8" height="12.60" fill="#DCD6F2"/>
<rect x="389.10" y="211.61" width="0.8" height="12.60" fill="#FBEDEA"/>
<rect x="397.70" y="211.61" width="0.8" height="12.60" fill="#FBEDEA"/>
<rect x="408.30" y="211.61" width="0.8" height="12.60" fill="#DCD6F2"/>
<rect x="412.30" y="186.41" width="0.8" height="12.60" fill="#E09080"/>
<rect x="413.70" y="186.41" width="0.8" height="12.60" fill="#BEB4E4"/>
<rect x="415.60" y="186.41" width="0.8" height="12.60" fill="#EEBCB0"/>
<rect x="426.30" y="186.41" width="0.8" height="12.60" fill="#BEB4E4"/>
<rect x="427.60" y="186.41" width="2.0" height="12.60" fill="#3C2C9C"/>
<rect x="430.90" y="186.41" width="2.0" height="12.60" fill="#7060BC"/>
<rect x="434.20" y="186.41" width="0.8" height="12.60" fill="#9C8CD4"/>
<rect x="435.60" y="186.41" width="0.8" height="12.60" fill="#7060BC"/>
<rect x="440.20" y="186.41" width="0.8" height="12.60" fill="#BEB4E4"/>
<rect x="445.50" y="186.41" width="0.8" height="12.60" fill="#EEEBF8"/>
<rect x="450.60" y="186.41" width="0.8" height="12.60" fill="#BEB4E4"/>
<rect x="452.20" y="186.41" width="0.8" height="12.60" fill="#DCD6F2"/>
<rect x="455.50" y="186.41" width="1.5" height="12.60" fill="#7060BC"/>
<rect x="459.50" y="186.41" width="0.8" height="12.60" fill="#DCD6F2"/>
<rect x="462.10" y="186.41" width="0.8" height="12.60" fill="#EEBCB0"/>
<rect x="469.20" y="186.41" width="0.8" height="12.60" fill="#9C8CD4"/>
<rect x="478.50" y="186.41" width="0.8" height="12.60" fill="#9C8CD4"/>
<rect x="485.40" y="186.41" width="0.8" height="12.60" fill="#9C8CD4"/>
<rect x="494.00" y="186.41" width="4.0" height="12.60" fill="#9C8CD4"/>
<rect x="428.30" y="199.01" width="0.8" height="12.60" fill="#BEB4E4"/>
<rect x="430.90" y="199.01" width="0.8" height="12.60" fill="#DCD6F2"/>
<rect x="432.90" y="199.01" width="0.8" height="12.60" fill="#DCD6F2"/>
<rect x="434.90" y="199.01" width="0.8" height="12.60" fill="#DCD6F2"/>
<rect x="444.20" y="199.01" width="0.8" height="12.60" fill="#EEEBF8"/>
<rect x="456.20" y="199.01" width="0.8" height="12.60" fill="#DCD6F2"/>
<rect x="468.80" y="199.01" width="0.8" height="12.60" fill="#DCD6F2"/>
<rect x="475.80" y="199.01" width="0.8" height="12.60" fill="#EEEBF8"/>
<rect x="485.40" y="199.01" width="0.8" height="12.60" fill="#DCD6F2"/>
<rect x="496.70" y="199.01" width="0.8" height="12.60" fill="#BEB4E4"/>
<rect x="414.30" y="211.61" width="0.8" height="12.60" fill="#FBEDEA"/>
<rect x="420.30" y="211.61" width="0.8" height="12.60" fill="#F6D9D2"/>
<rect x="428.30" y="211.61" width="0.8" height="12.60" fill="#9C8CD4"/>
<rect x="432.30" y="211.61" width="0.8" height="12.60" fill="#BEB4E4"/>
<rect x="434.60" y="211.61" width="0.8" height="12.60" fill="#F6D9D2"/>
<rect x="442.20" y="211.61" width="0.8" height="12.60" fill="#FBEDEA"/>
<rect x="450.60" y="211.61" width="0.8" height="12.60" fill="#DCD6F2"/>
<rect x="456.20" y="211.61" width="0.8" height="12.60" fill="#BEB4E4"/>
<rect x="462.50" y="211.61" width="0.8" height="12.60" fill="#FBEDEA"/>
<rect x="469.50" y="211.61" width="0.8" height="12.60" fill="#DCD6F2"/>
<rect x="476.10" y="211.61" width="0.8" height="12.60" fill="#EEEBF8"/>
<rect x="487.80" y="211.61" width="0.8" height="12.60" fill="#DCD6F2"/>
<rect x="497.40" y="211.61" width="0.8" height="12.60" fill="#BEB4E4"/>
<rect x="504.40" y="186.41" width="0.8" height="12.60" fill="#EEBCB0"/>
<rect x="541.90" y="186.41" width="0.8" height="12.60" fill="#DCD6F2"/>
<rect x="543.50" y="186.41" width="2.0" height="12.60" fill="#9C8CD4"/>
<rect x="550.50" y="186.41" width="0.8" height="12.60" fill="#EEBCB0"/>
<rect x="552.20" y="186.41" width="2.0" height="12.60" fill="#7A4A9A"/>
<rect x="555.10" y="186.41" width="0.8" height="12.60" fill="#EEBCB0"/>
<rect x="513.30" y="199.01" width="0.8" height="12.60" fill="#F6D9D2"/>
<rect x="541.20" y="199.01" width="2.0" height="12.60" fill="#EEEBF8"/>
<rect x="544.50" y="199.01" width="0.8" height="12.60" fill="#F6D9D2"/>
<rect x="550.50" y="199.01" width="0.8" height="12.60" fill="#FBEDEA"/>
<rect x="553.80" y="199.01" width="0.8" height="12.60" fill="#F6D9D2"/>
<rect x="569.80" y="199.01" width="0.8" height="12.60" fill="#DCD6F2"/>
<rect x="504.00" y="211.61" width="0.8" height="12.60" fill="#EEEBF8"/>
<rect x="518.60" y="211.61" width="0.8" height="12.60" fill="#F6D9D2"/>
<rect x="541.20" y="211.61" width="0.8" height="12.60" fill="#DCD6F2"/>
<rect x="544.50" y="211.61" width="0.8" height="12.60" fill="#F6D9D2"/>
<rect x="554.50" y="211.61" width="0.8" height="12.60" fill="#F6D9D2"/>
<rect x="619.60" y="186.41" width="0.8" height="12.60" fill="#F6D9D2"/>
<rect x="621.50" y="186.41" width="0.8" height="12.60" fill="#F6D9D2"/>
<rect x="628.60" y="186.41" width="2.0" height="12.60" fill="#BEB4E4"/>
<rect x="638.70" y="186.41" width="0.8" height="12.60" fill="#7060BC"/>
<rect x="640.70" y="186.41" width="0.8" height="12.60" fill="#F6D9D2"/>
<rect x="648.00" y="186.41" width="2.7" height="12.60" fill="#BEB4E4"/>
<rect x="661.50" y="186.41" width="0.8" height="12.60" fill="#BEB4E4"/>
<rect x="663.50" y="186.41" width="0.8" height="12.60" fill="#DCD6F2"/>
<rect x="666.90" y="186.41" width="0.8" height="12.60" fill="#DCD6F2"/>
<rect x="672.90" y="186.41" width="2.3" height="12.60" fill="#9C8CD4"/>
<rect x="619.90" y="199.01" width="0.8" height="12.60" fill="#FBEDEA"/>
<rect x="629.30" y="199.01" width="0.8" height="12.60" fill="#EEEBF8"/>
<rect x="638.70" y="199.01" width="0.8" height="12.60" fill="#DCD6F2"/>
<rect x="650.80" y="199.01" width="0.8" height="12.60" fill="#DCD6F2"/>
<rect x="662.80" y="199.01" width="0.8" height="12.60" fill="#DCD6F2"/>
<rect x="666.90" y="199.01" width="0.8" height="12.60" fill="#EEEBF8"/>
<rect x="672.20" y="199.01" width="0.8" height="12.60" fill="#EEEBF8"/>
<rect x="619.90" y="211.61" width="0.8" height="12.60" fill="#FBEDEA"/>
<rect x="629.30" y="211.61" width="0.8" height="12.60" fill="#EEEBF8"/>
<rect x="649.40" y="211.61" width="0.8" height="12.60" fill="#DCD6F2"/>
<rect x="650.80" y="211.61" width="0.8" height="12.60" fill="#BEB4E4"/>
<rect x="662.20" y="211.61" width="0.8" height="12.60" fill="#EEEBF8"/>
<rect x="666.90" y="211.61" width="0.8" height="12.60" fill="#DCD6F2"/>
<rect x="579.40" y="186.41" width="1.4" height="12.60" fill="#EEEBF8"/>
<rect x="585.10" y="186.41" width="2.8" height="12.60" fill="#DCD6F2"/>
<rect x="593.60" y="186.41" width="2.1" height="12.60" fill="#9C8CD4"/>
<rect x="595.80" y="186.41" width="1.1" height="12.60" fill="#1A0A85"/>
<rect x="597.60" y="186.41" width="1.4" height="12.60" fill="#7060BC"/>
<rect x="600.80" y="186.41" width="3.2" height="12.60" fill="#BEB4E4"/>
<rect x="613.30" y="186.41" width="2.2" height="12.60" fill="#BEB4E4"/>
<rect x="615.50" y="186.41" width="2.1" height="12.60" fill="#DCD6F2"/>
<rect x="584.70" y="199.01" width="0.8" height="12.60" fill="#EEEBF8"/>
<rect x="586.50" y="199.01" width="0.8" height="12.60" fill="#EEEBF8"/>
<rect x="594.00" y="199.01" width="1.4" height="12.60" fill="#EEEBF8"/>
<rect x="595.80" y="199.01" width="1.1" height="12.60" fill="#BEB4E4"/>
<rect x="601.10" y="199.01" width="2.9" height="12.60" fill="#EEEBF8"/>
<rect x="613.60" y="199.01" width="4.7" height="12.60" fill="#EEEBF8"/>
<rect x="579.70" y="211.61" width="1.1" height="12.60" fill="#EEEBF8"/>
<rect x="594.00" y="211.61" width="1.1" height="12.60" fill="#FBEDEA"/>
<rect x="595.80" y="211.61" width="1.1" height="12.60" fill="#BEB4E4"/>
<rect x="601.10" y="211.61" width="0.8" height="12.60" fill="#DCD6F2"/>
<rect x="603.30" y="211.61" width="0.8" height="12.60" fill="#DCD6F2"/>
<rect x="610.40" y="211.61" width="0.8" height="12.60" fill="#EEEBF8"/>
<rect x="613.60" y="211.61" width="0.8" height="12.60" fill="#F6D9D2"/>
<line x1="306.5" y1="224.01" x2="306.5" y2="187.56" stroke="#3a3a3a" stroke-width="1.0" stroke-dasharray="2.6 2.0"/>
<line x1="423.0" y1="224.01" x2="423.0" y2="187.56" stroke="#3a3a3a" stroke-width="1.0" stroke-dasharray="2.6 2.0"/>
<line x1="466.0" y1="224.01" x2="466.0" y2="187.56" stroke="#3a3a3a" stroke-width="1.0" stroke-dasharray="2.6 2.0"/>
<line x1="492.0" y1="224.01" x2="492.0" y2="187.56" stroke="#3a3a3a" stroke-width="1.0" stroke-dasharray="2.6 2.0"/>
<line x1="524.5" y1="224.01" x2="524.5" y2="187.56" stroke="#3a3a3a" stroke-width="1.0" stroke-dasharray="2.6 2.0"/>
<line x1="574.5" y1="224.01" x2="574.5" y2="187.56" stroke="#3a3a3a" stroke-width="1.0" stroke-dasharray="2.6 2.0"/>
<line x1="612.5" y1="224.01" x2="612.5" y2="187.56" stroke="#3a3a3a" stroke-width="1.0" stroke-dasharray="2.6 2.0"/>
<line x1="644.5" y1="224.01" x2="644.5" y2="187.56" stroke="#3a3a3a" stroke-width="1.0" stroke-dasharray="2.6 2.0"/>
<rect x="138.67" y="186.98" width="545.75" height="36.65" fill="none" stroke="#3c3c3c" stroke-width="1.15"/>
<text x="82.9" y="254.20" font-size="10.5" text-anchor="end" textLength="66.0" lengthAdjust="spacingAndGlyphs" fill="#262626" font-family="Liberation Sans, sans-serif">Nitrofurantoin</text>
<text x="125.3" y="241.50" font-size="8.3" text-anchor="end" textLength="26.7" lengthAdjust="spacingAndGlyphs" fill="#262626" font-family="Liberation Sans, sans-serif">&lt;1 year</text>
<rect x="128.9" y="238.85" width="1.8" height="0.7" fill="#444"/>
<rect x="131" y="232.90" width="5.5" height="12.65" fill="#D8E2D5"/>
<text x="125.3" y="254.10" font-size="8.3" text-anchor="end" textLength="38.0" lengthAdjust="spacingAndGlyphs" fill="#262626" font-family="Liberation Sans, sans-serif">1–4 years</text>
<rect x="128.9" y="251.45" width="1.8" height="0.7" fill="#444"/>
<rect x="131" y="245.50" width="5.5" height="12.65" fill="#A6C59F"/>
<text x="125.3" y="266.70" font-size="8.3" text-anchor="end" textLength="38.5" lengthAdjust="spacingAndGlyphs" fill="#262626" font-family="Liberation Sans, sans-serif">4–8 years</text>
<rect x="128.9" y="264.05" width="1.8" height="0.7" fill="#444"/>
<rect x="131" y="258.10" width="5.5" height="12.65" fill="#AECAA7"/>
<rect x="191.10" y="232.90" width="0.8" height="12.60" fill="#EEBCB0"/>
<rect x="147.30" y="245.50" width="0.8" height="12.60" fill="#DCD6F2"/>
<rect x="253.00" y="245.50" width="0.8" height="12.60" fill="#EEEBF8"/>
<rect x="400.50" y="232.90" width="0.8" height="12.60" fill="#EEBCB0"/>
<rect x="472.20" y="232.90" width="0.8" height="12.60" fill="#EEBCB0"/>
<rect x="493.20" y="232.90" width="0.8" height="12.60" fill="#E09080"/>
<rect x="324.00" y="258.10" width="0.8" height="12.60" fill="#F6D9D2"/>
<rect x="391.20" y="258.10" width="0.8" height="12.60" fill="#DCD6F2"/>
<rect x="542.10" y="245.50" width="0.8" height="12.60" fill="#F6D9D2"/>
<rect x="590.20" y="245.50" width="2.0" height="12.60" fill="#DCD6F2"/>
<rect x="603.50" y="245.50" width="0.8" height="12.60" fill="#DCD6F2"/>
<rect x="672.50" y="245.50" width="0.8" height="12.60" fill="#EEEBF8"/>
<rect x="506.00" y="258.10" width="0.8" height="12.60" fill="#EEEBF8"/>
<rect x="659.60" y="258.10" width="0.8" height="12.60" fill="#F6D9D2"/>
<rect x="668.20" y="258.10" width="0.8" height="12.60" fill="#FBEDEA"/>
<line x1="306.5" y1="270.50" x2="306.5" y2="234.05" stroke="#3a3a3a" stroke-width="1.0" stroke-dasharray="2.6 2.0"/>
<line x1="423.0" y1="270.50" x2="423.0" y2="234.05" stroke="#3a3a3a" stroke-width="1.0" stroke-dasharray="2.6 2.0"/>
<line x1="466.0" y1="270.50" x2="466.0" y2="234.05" stroke="#3a3a3a" stroke-width="1.0" stroke-dasharray="2.6 2.0"/>
<line x1="492.0" y1="270.50" x2="492.0" y2="234.05" stroke="#3a3a3a" stroke-width="1.0" stroke-dasharray="2.6 2.0"/>
<line x1="524.5" y1="270.50" x2="524.5" y2="234.05" stroke="#3a3a3a" stroke-width="1.0" stroke-dasharray="2.6 2.0"/>
<line x1="574.5" y1="270.50" x2="574.5" y2="234.05" stroke="#3a3a3a" stroke-width="1.0" stroke-dasharray="2.6 2.0"/>
<line x1="612.5" y1="270.50" x2="612.5" y2="234.05" stroke="#3a3a3a" stroke-width="1.0" stroke-dasharray="2.6 2.0"/>
<line x1="644.5" y1="270.50" x2="644.5" y2="234.05" stroke="#3a3a3a" stroke-width="1.0" stroke-dasharray="2.6 2.0"/>
<rect x="138.67" y="233.47" width="545.75" height="36.65" fill="none" stroke="#3c3c3c" stroke-width="1.15"/>
<text x="82.9" y="300.72" font-size="10.5" text-anchor="end" textLength="59.8" lengthAdjust="spacingAndGlyphs" fill="#262626" font-family="Liberation Sans, sans-serif">Clindamycin</text>
<text x="125.3" y="287.99" font-size="8.3" text-anchor="end" textLength="26.7" lengthAdjust="spacingAndGlyphs" fill="#262626" font-family="Liberation Sans, sans-serif">&lt;1 year</text>
<rect x="128.9" y="285.34" width="1.8" height="0.7" fill="#444"/>
<rect x="131" y="279.39" width="5.5" height="12.65" fill="#DEE5DC"/>
<text x="125.3" y="300.59" font-size="8.3" text-anchor="end" textLength="38.0" lengthAdjust="spacingAndGlyphs" fill="#262626" font-family="Liberation Sans, sans-serif">1–4 years</text>
<rect x="128.9" y="297.94" width="1.8" height="0.7" fill="#444"/>
<rect x="131" y="291.99" width="5.5" height="12.65" fill="#BCD3B6"/>
<text x="125.3" y="313.19" font-size="8.3" text-anchor="end" textLength="38.5" lengthAdjust="spacingAndGlyphs" fill="#262626" font-family="Liberation Sans, sans-serif">4–8 years</text>
<rect x="128.9" y="310.54" width="1.8" height="0.7" fill="#444"/>
<rect x="131" y="304.59" width="5.5" height="12.65" fill="#B3CDAC"/>
<rect x="142.30" y="279.39" width="0.8" height="12.60" fill="#9C8CD4"/>
<rect x="152.30" y="279.39" width="0.8" height="12.60" fill="#F6D9D2"/>
<rect x="155.30" y="279.39" width="0.8" height="12.60" fill="#BEB4E4"/>
<rect x="163.20" y="279.39" width="1.5" height="12.60" fill="#3C2C9C"/>
<rect x="165.90" y="279.39" width="0.8" height="12.60" fill="#BEB4E4"/>
<rect x="169.20" y="279.39" width="2.7" height="12.60" fill="#3C2C9C"/>
<rect x="170.00" y="279.39" width="1.4" height="12.60" fill="#1A0A85"/>
<rect x="176.80" y="279.39" width="0.8" height="12.60" fill="#3C2C9C"/>
<rect x="185.40" y="279.39" width="0.8" height="12.60" fill="#E09080"/>
<rect x="191.80" y="279.39" width="0.8" height="12.60" fill="#BEB4E4"/>
<rect x="194.50" y="279.39" width="0.8" height="12.60" fill="#9C8CD4"/>
<rect x="196.50" y="279.39" width="0.8" height="12.60" fill="#9C8CD4"/>
<rect x="199.10" y="279.39" width="4.0" height="12.60" fill="#9C8CD4"/>
<rect x="205.10" y="279.39" width="1.3" height="12.60" fill="#BEB4E4"/>
<rect x="209.10" y="279.39" width="1.2" height="12.60" fill="#1A0A85"/>
<rect x="218.80" y="279.39" width="0.8" height="12.60" fill="#EEBCB0"/>
<rect x="222.40" y="279.39" width="0.8" height="12.60" fill="#7060BC"/>
<rect x="226.30" y="279.39" width="0.8" height="12.60" fill="#BEB4E4"/>
<rect x="228.30" y="279.39" width="0.8" height="12.60" fill="#F6D9D2"/>
<rect x="140.00" y="291.99" width="4.0" height="12.60" fill="#DCD6F2"/>
<rect x="147.30" y="291.99" width="0.8" height="12.60" fill="#BEB4E4"/>
<rect x="152.00" y="291.99" width="2.6" height="12.60" fill="#F6D9D2"/>
<rect x="156.30" y="291.99" width="0.8" height="12.60" fill="#BEB4E4"/>
<rect x="158.60" y="291.99" width="2.6" height="12.60" fill="#BEB4E4"/>
<rect x="163.90" y="291.99" width="0.8" height="12.60" fill="#BEB4E4"/>
<rect x="165.90" y="291.99" width="0.8" height="12.60" fill="#DCD6F2"/>
<rect x="169.20" y="291.99" width="2.7" height="12.60" fill="#9C8CD4"/>
<rect x="176.50" y="291.99" width="0.8" height="12.60" fill="#9C8CD4"/>
<rect x="179.50" y="291.99" width="0.8" height="12.60" fill="#EEBCB0"/>
<rect x="185.20" y="291.99" width="0.8" height="12.60" fill="#F6D9D2"/>
<rect x="189.80" y="291.99" width="0.8" height="12.60" fill="#DCD6F2"/>
<rect x="193.80" y="291.99" width="0.8" height="12.60" fill="#EEBCB0"/>
<rect x="196.50" y="291.99" width="0.8" height="12.60" fill="#DCD6F2"/>
<rect x="203.80" y="291.99" width="2.0" height="12.60" fill="#9C8CD4"/>
<rect x="207.70" y="291.99" width="2.0" height="12.60" fill="#9C8CD4"/>
<rect x="213.10" y="291.99" width="0.8" height="12.60" fill="#BEB4E4"/>
<rect x="218.40" y="291.99" width="0.8" height="12.60" fill="#F6D9D2"/>
<rect x="221.00" y="291.99" width="0.8" height="12.60" fill="#F6D9D2"/>
<rect x="223.00" y="291.99" width="0.8" height="12.60" fill="#EEBCB0"/>
<rect x="225.70" y="291.99" width="0.8" height="12.60" fill="#DCD6F2"/>
<rect x="141.30" y="304.59" width="0.8" height="12.60" fill="#FBEDEA"/>
<rect x="147.30" y="304.59" width="0.8" height="12.60" fill="#F6D9D2"/>
<rect x="151.30" y="304.59" width="1.3" height="12.60" fill="#F6D9D2"/>
<rect x="156.60" y="304.59" width="0.8" height="12.60" fill="#DCD6F2"/>
<rect x="159.30" y="304.59" width="0.8" height="12.60" fill="#DCD6F2"/>
<rect x="165.90" y="304.59" width="0.8" height="12.60" fill="#DCD6F2"/>
<rect x="170.50" y="304.59" width="2.0" height="12.60" fill="#BEB4E4"/>
<rect x="172.80" y="304.59" width="0.8" height="12.60" fill="#F6D9D2"/>
<rect x="176.50" y="304.59" width="0.8" height="12.60" fill="#BEB4E4"/>
<rect x="181.80" y="304.59" width="0.8" height="12.60" fill="#FBEDEA"/>
<rect x="193.10" y="304.59" width="0.8" height="12.60" fill="#F6D9D2"/>
<rect x="194.50" y="304.59" width="0.8" height="12.60" fill="#EEBCB0"/>
<rect x="203.80" y="304.59" width="2.0" height="12.60" fill="#DCD6F2"/>
<rect x="207.10" y="304.59" width="0.8" height="12.60" fill="#BEB4E4"/>
<rect x="219.00" y="304.59" width="0.8" height="12.60" fill="#F6D9D2"/>
<rect x="221.00" y="304.59" width="0.8" height="12.60" fill="#F6D9D2"/>
<rect x="225.70" y="304.59" width="0.8" height="12.60" fill="#F6D9D2"/>
<rect x="231.40" y="279.39" width="0.8" height="12.60" fill="#7060BC"/>
<rect x="234.30" y="279.39" width="0.8" height="12.60" fill="#BEB4E4"/>
<rect x="244.30" y="279.39" width="0.8" height="37.80" fill="#E09080"/>
<rect x="249.30" y="279.39" width="0.8" height="12.60" fill="#7060BC"/>
<rect x="253.60" y="279.39" width="1.2" height="12.60" fill="#9C8CD4"/>
<rect x="256.20" y="279.39" width="0.8" height="12.60" fill="#F6D9D2"/>
<rect x="259.80" y="279.39" width="0.8" height="12.60" fill="#DCD6F2"/>
<rect x="262.20" y="279.39" width="0.8" height="12.60" fill="#EEBCB0"/>
<rect x="270.50" y="279.39" width="0.8" height="12.60" fill="#E09080"/>
<rect x="273.50" y="279.39" width="2.0" height="12.60" fill="#BEB4E4"/>
<rect x="282.80" y="279.39" width="0.8" height="12.60" fill="#DCD6F2"/>
<rect x="286.10" y="279.39" width="2.0" height="12.60" fill="#9C8CD4"/>
<rect x="290.80" y="279.39" width="0.8" height="12.60" fill="#EEBCB0"/>
<rect x="297.40" y="279.39" width="0.8" height="12.60" fill="#DCD6F2"/>
<rect x="301.40" y="279.39" width="0.8" height="12.60" fill="#BEB4E4"/>
<rect x="303.40" y="279.39" width="0.8" height="12.60" fill="#9C8CD4"/>
<rect x="232.30" y="291.99" width="0.8" height="12.60" fill="#EEEBF8"/>
<rect x="238.30" y="291.99" width="0.8" height="12.60" fill="#FBEDEA"/>
<rect x="243.00" y="291.99" width="0.8" height="12.60" fill="#F6D9D2"/>
<rect x="249.30" y="291.99" width="0.8" height="12.60" fill="#9C8CD4"/>
<rect x="255.60" y="291.99" width="1.6" height="12.60" fill="#F6D9D2"/>
<rect x="259.60" y="291.99" width="0.8" height="12.60" fill="#EEEBF8"/>
<rect x="262.90" y="291.99" width="0.8" height="12.60" fill="#F6D9D2"/>
<rect x="270.20" y="291.99" width="0.8" height="12.60" fill="#EEBCB0"/>
<rect x="271.50" y="291.99" width="4.0" height="12.60" fill="#D8B0B8"/>
<rect x="279.50" y="291.99" width="0.8" height="12.60" fill="#DCD6F2"/>
<rect x="282.80" y="291.99" width="0.8" height="12.60" fill="#DCD6F2"/>
<rect x="286.80" y="291.99" width="2.0" height="12.60" fill="#BEB4E4"/>
<rect x="290.80" y="291.99" width="2.0" height="12.60" fill="#F6D9D2"/>
<rect x="297.40" y="291.99" width="0.8" height="12.60" fill="#EEEBF8"/>
<rect x="301.40" y="291.99" width="0.8" height="12.60" fill="#DCD6F2"/>
<rect x="230.30" y="304.59" width="0.8" height="12.60" fill="#FBEDEA"/>
<rect x="234.30" y="304.59" width="0.8" height="12.60" fill="#FBEDEA"/>
<rect x="238.30" y="304.59" width="0.8" height="12.60" fill="#F6D9D2"/>
<rect x="242.30" y="304.59" width="0.8" height="12.60" fill="#F6D9D2"/>
<rect x="250.30" y="304.59" width="0.8" height="12.60" fill="#FBEDEA"/>
<rect x="258.20" y="304.59" width="0.8" height="12.60" fill="#EEBCB0"/>
<rect x="262.20" y="304.59" width="0.8" height="12.60" fill="#F6D9D2"/>
<rect x="268.20" y="304.59" width="0.8" height="12.60" fill="#F6D9D2"/>
<rect x="271.50" y="304.59" width="0.8" height="12.60" fill="#EEBCB0"/>
<rect x="275.50" y="304.59" width="0.8" height="12.60" fill="#BEB4E4"/>
<rect x="283.50" y="304.59" width="0.8" height="12.60" fill="#F6D9D2"/>
<rect x="288.10" y="304.59" width="0.8" height="12.60" fill="#BEB4E4"/>
<rect x="292.80" y="304.59" width="0.8" height="12.60" fill="#FBEDEA"/>
<rect x="300.70" y="304.59" width="0.8" height="12.60" fill="#F6D9D2"/>
<rect x="452.20" y="279.39" width="3.3" height="12.60" fill="#9C8CD4"/>
<rect x="456.20" y="279.39" width="0.8" height="12.60" fill="#7060BC"/>
<rect x="460.20" y="279.39" width="0.8" height="12.60" fill="#BEB4E4"/>
<rect x="469.50" y="279.39" width="0.8" height="12.60" fill="#9C8CD4"/>
<rect x="485.40" y="279.39" width="0.8" height="12.60" fill="#7060BC"/>
<rect x="493.40" y="279.39" width="0.8" height="12.60" fill="#F6D9D2"/>
<rect x="495.40" y="279.39" width="2.6" height="12.60" fill="#7060BC"/>
<rect x="500.00" y="279.39" width="0.8" height="12.60" fill="#EEBCB0"/>
<rect x="450.20" y="291.99" width="0.8" height="12.60" fill="#DCD6F2"/>
<rect x="453.20" y="291.99" width="0.8" height="12.60" fill="#F6D9D2"/>
<rect x="456.20" y="291.99" width="0.8" height="12.60" fill="#BEB4E4"/>
<rect x="460.20" y="291.99" width="0.8" height="12.60" fill="#DCD6F2"/>
<rect x="462.10" y="291.99" width="0.8" height="12.60" fill="#F6D9D2"/>
<rect x="469.50" y="291.99" width="0.8" height="12.60" fill="#DCD6F2"/>
<rect x="479.40" y="291.99" width="0.8" height="12.60" fill="#DCD6F2"/>
<rect x="485.40" y="291.99" width="0.8" height="12.60" fill="#BEB4E4"/>
<rect x="494.00" y="291.99" width="0.8" height="12.60" fill="#F6D9D2"/>
<rect x="496.00" y="291.99" width="2.0" height="12.60" fill="#9C8CD4"/>
<rect x="500.00" y="291.99" width="0.8" height="12.60" fill="#F6D9D2"/>
<rect x="453.50" y="304.59" width="0.8" height="12.60" fill="#F6D9D2"/>
<rect x="462.10" y="304.59" width="0.8" height="12.60" fill="#FBEDEA"/>
<rect x="493.40" y="304.59" width="0.8" height="12.60" fill="#F6D9D2"/>
<rect x="496.70" y="304.59" width="0.8" height="12.60" fill="#9C8CD4"/>
<rect x="499.30" y="304.59" width="0.8" height="12.60" fill="#F6D9D2"/>
<rect x="504.40" y="279.39" width="0.8" height="12.60" fill="#E09080"/>
<rect x="506.60" y="279.39" width="0.8" height="12.60" fill="#CC6650"/>
<rect x="511.30" y="279.39" width="0.8" height="12.60" fill="#9C8CD4"/>
<rect x="520.30" y="279.39" width="0.8" height="12.60" fill="#EEBCB0"/>
<rect x="544.50" y="279.39" width="0.8" height="12.60" fill="#CC6650"/>
<rect x="549.20" y="279.39" width="1.3" height="12.60" fill="#EEBCB0"/>
<rect x="552.50" y="279.39" width="0.8" height="12.60" fill="#803060"/>
<rect x="554.50" y="279.39" width="0.8" height="12.60" fill="#E09080"/>
<rect x="572.40" y="279.39" width="0.8" height="12.60" fill="#EEBCB0"/>
<rect x="504.40" y="291.99" width="0.8" height="12.60" fill="#F6D9D2"/>
<rect x="518.60" y="291.99" width="0.8" height="12.60" fill="#F6D9D2"/>
<rect x="520.30" y="291.99" width="0.8" height="12.60" fill="#F6D9D2"/>
<rect x="534.50" y="291.99" width="0.8" height="12.60" fill="#FBEDEA"/>
<rect x="544.50" y="291.99" width="0.8" height="12.60" fill="#EEBCB0"/>
<rect x="549.20" y="291.99" width="2.0" height="12.60" fill="#EEBCB0"/>
<rect x="552.50" y="291.99" width="2.7" height="12.60" fill="#E8C0D0"/>
<rect x="504.00" y="304.59" width="0.8" height="12.60" fill="#EEEBF8"/>
<rect x="518.60" y="304.59" width="2.0" height="12.60" fill="#F6D9D2"/>
<rect x="534.50" y="304.59" width="0.8" height="12.60" fill="#FBEDEA"/>
<rect x="543.20" y="304.59" width="0.8" height="12.60" fill="#F6D9D2"/>
<rect x="549.20" y="304.59" width="0.8" height="12.60" fill="#EEBCB0"/>
<rect x="554.50" y="304.59" width="0.8" height="12.60" fill="#F6D9D2"/>
<rect x="569.80" y="304.59" width="0.8" height="12.60" fill="#BEB4E4"/>
<rect x="619.60" y="279.39" width="0.8" height="12.60" fill="#603080"/>
<rect x="627.20" y="279.39" width="4.0" height="12.60" fill="#BEB4E4"/>
<rect x="630.50" y="279.39" width="0.8" height="12.60" fill="#9C8CD4"/>
<rect x="638.70" y="279.39" width="0.8" height="12.60" fill="#7060BC"/>
<rect x="640.70" y="279.39" width="0.8" height="12.60" fill="#EEBCB0"/>
<rect x="642.00" y="279.39" width="0.8" height="12.60" fill="#DCD6F2"/>
<rect x="645.40" y="279.39" width="0.8" height="37.80" fill="#CC6650"/>
<rect x="653.40" y="279.39" width="0.8" height="12.60" fill="#CC6650"/>
<rect x="657.20" y="279.39" width="0.8" height="12.60" fill="#FBEDEA"/>
<rect x="666.90" y="279.39" width="0.8" height="12.60" fill="#BEB4E4"/>
<rect x="672.20" y="279.39" width="0.8" height="12.60" fill="#BEB4E4"/>
<rect x="674.30" y="279.39" width="0.8" height="12.60" fill="#9C8CD4"/>
<rect x="681.60" y="279.39" width="0.8" height="12.60" fill="#DCD6F2"/>
<rect x="619.20" y="291.99" width="0.8" height="12.60" fill="#F6D9D2"/>
<rect x="621.20" y="291.99" width="0.8" height="12.60" fill="#F6D9D2"/>
<rect x="627.20" y="291.99" width="4.0" height="12.60" fill="#DCD6F2"/>
<rect x="638.70" y="291.99" width="0.8" height="12.60" fill="#9C8CD4"/>
<rect x="641.30" y="291.99" width="0.8" height="12.60" fill="#DCD6F2"/>
<rect x="650.70" y="291.99" width="0.8" height="12.60" fill="#DCD6F2"/>
<rect x="661.50" y="291.99" width="0.8" height="12.60" fill="#DCD6F2"/>
<rect x="663.50" y="291.99" width="0.8" height="12.60" fill="#F6D9D2"/>
<rect x="666.90" y="291.99" width="0.8" height="12.60" fill="#DCD6F2"/>
<rect x="670.20" y="291.99" width="0.8" height="12.60" fill="#DCD6F2"/>
<rect x="674.90" y="291.99" width="0.8" height="12.60" fill="#DCD6F2"/>
<rect x="677.60" y="291.99" width="0.8" height="12.60" fill="#F6D9D2"/>
<rect x="619.90" y="304.59" width="0.8" height="12.60" fill="#EEBCB0"/>
<rect x="629.30" y="304.59" width="0.8" height="12.60" fill="#DCD6F2"/>
<rect x="633.30" y="304.59" width="0.8" height="12.60" fill="#F6D9D2"/>
<rect x="306.00" y="279.39" width="0.8" height="12.60" fill="#E09080"/>
<rect x="307.00" y="279.39" width="1.1" height="12.60" fill="#9C8CD4"/>
<rect x="308.50" y="279.39" width="2.1" height="12.60" fill="#3C2C9C"/>
<rect x="312.80" y="279.39" width="2.1" height="12.60" fill="#1A0A85"/>
<rect x="318.10" y="279.39" width="1.5" height="12.60" fill="#A05060"/>
<rect x="319.60" y="279.39" width="2.5" height="12.60" fill="#E09080"/>
<rect x="322.40" y="279.39" width="1.5" height="12.60" fill="#9C8CD4"/>
<rect x="325.10" y="279.39" width="0.9" height="12.60" fill="#9C8CD4"/>
<rect x="326.40" y="279.39" width="2.5" height="12.60" fill="#C8A8C8"/>
<rect x="330.60" y="279.39" width="0.8" height="12.60" fill="#F6D9D2"/>
<rect x="336.00" y="279.39" width="0.8" height="12.60" fill="#BEB4E4"/>
<rect x="338.90" y="279.39" width="1.1" height="12.60" fill="#7060BC"/>
<rect x="341.00" y="279.39" width="0.8" height="12.60" fill="#9C8CD4"/>
<rect x="344.60" y="279.39" width="1.0" height="12.60" fill="#7060BC"/>
<rect x="347.40" y="279.39" width="0.8" height="12.60" fill="#DCD6F2"/>
<rect x="306.00" y="291.99" width="0.8" height="12.60" fill="#EEBCB0"/>
<rect x="307.80" y="291.99" width="2.8" height="12.60" fill="#BEB4E4"/>
<rect x="312.80" y="291.99" width="2.5" height="12.60" fill="#7060BC"/>
<rect x="318.10" y="291.99" width="4.3" height="12.60" fill="#D8907C"/>
<rect x="324.90" y="291.99" width="1.1" height="12.60" fill="#9C8CD4"/>
<rect x="326.70" y="291.99" width="2.0" height="12.60" fill="#DCD6F2"/>
<rect x="331.00" y="291.99" width="0.8" height="12.60" fill="#DCD6F2"/>
<rect x="333.90" y="291.99" width="1.4" height="12.60" fill="#EEBCB0"/>
<rect x="337.10" y="291.99" width="1.0" height="12.60" fill="#EEBCB0"/>
<rect x="338.90" y="291.99" width="1.0" height="12.60" fill="#7060BC"/>
<rect x="341.00" y="291.99" width="0.8" height="12.60" fill="#BEB4E4"/>
<rect x="346.00" y="291.99" width="2.8" height="12.60" fill="#D8C0D8"/>
<rect x="306.00" y="304.59" width="0.8" height="12.60" fill="#F6D9D2"/>
<rect x="310.30" y="304.59" width="0.8" height="12.60" fill="#DCD6F2"/>
<rect x="313.90" y="304.59" width="1.4" height="12.60" fill="#DCD6F2"/>
<rect x="318.90" y="304.59" width="2.0" height="12.60" fill="#EEBCB0"/>
<rect x="322.40" y="304.59" width="0.8" height="12.60" fill="#FBEDEA"/>
<rect x="328.90" y="304.59" width="0.8" height="12.60" fill="#FBEDEA"/>
<rect x="334.20" y="304.59" width="1.1" height="12.60" fill="#F6D9D2"/>
<rect x="337.40" y="304.59" width="1.1" height="12.60" fill="#EEBCB0"/>
<rect x="339.20" y="304.59" width="0.8" height="12.60" fill="#9C8CD4"/>
<rect x="346.00" y="304.59" width="0.8" height="12.60" fill="#F6D9D2"/>
<rect x="351.00" y="279.39" width="0.8" height="12.60" fill="#DCD6F2"/>
<rect x="353.90" y="279.39" width="1.1" height="12.60" fill="#9A4A5A"/>
<rect x="355.30" y="279.39" width="1.4" height="12.60" fill="#EEBCB0"/>
<rect x="357.10" y="279.39" width="1.1" height="12.60" fill="#3C2C9C"/>
<rect x="359.90" y="279.39" width="1.8" height="12.60" fill="#8A5A8A"/>
<rect x="362.10" y="279.39" width="1.8" height="12.60" fill="#EEBCB0"/>
<rect x="365.30" y="279.39" width="2.1" height="12.60" fill="#1A0A85"/>
<rect x="367.80" y="279.39" width="1.1" height="12.60" fill="#DCD6F2"/>
<rect x="369.60" y="279.39" width="1.8" height="12.60" fill="#1A0A85"/>
<rect x="371.70" y="279.39" width="1.1" height="12.60" fill="#3C2C9C"/>
<rect x="376.40" y="279.39" width="1.8" height="12.60" fill="#5A2A70"/>
<rect x="379.20" y="279.39" width="1.1" height="12.60" fill="#DCD6F2"/>
<rect x="381.00" y="279.39" width="1.1" height="12.60" fill="#7060BC"/>
<rect x="382.10" y="279.39" width="1.0" height="12.60" fill="#E09080"/>
<rect x="383.50" y="279.39" width="0.8" height="12.60" fill="#9C8CD4"/>
<rect x="384.90" y="279.39" width="1.1" height="12.60" fill="#4A2A80"/>
<rect x="386.70" y="279.39" width="1.4" height="12.60" fill="#F6D9D2"/>
<rect x="388.50" y="279.39" width="1.4" height="12.60" fill="#B06060"/>
<rect x="391.00" y="279.39" width="0.8" height="12.60" fill="#F6D9D2"/>
<rect x="393.10" y="279.39" width="0.9" height="12.60" fill="#3C2C9C"/>
<rect x="351.00" y="291.99" width="0.8" height="12.60" fill="#BEB4E4"/>
<rect x="353.90" y="291.99" width="2.1" height="12.60" fill="#E09080"/>
<rect x="357.40" y="291.99" width="0.8" height="12.60" fill="#DCD6F2"/>
<rect x="359.90" y="291.99" width="1.8" height="12.60" fill="#9C8CD4"/>
<rect x="362.10" y="291.99" width="1.4" height="12.60" fill="#EEBCB0"/>
<rect x="364.90" y="291.99" width="1.4" height="12.60" fill="#BEB4E4"/>
<rect x="367.10" y="291.99" width="1.0" height="12.60" fill="#DCD6F2"/>
<rect x="368.50" y="291.99" width="1.1" height="12.60" fill="#F6D9D2"/>
<rect x="369.90" y="291.99" width="2.9" height="12.60" fill="#9C8CD4"/>
<rect x="373.90" y="291.99" width="0.8" height="12.60" fill="#DCD6F2"/>
<rect x="376.40" y="291.99" width="1.8" height="12.60" fill="#9C8CD4"/>
<rect x="381.00" y="291.99" width="1.4" height="12.60" fill="#9C8CD4"/>
<rect x="382.40" y="291.99" width="0.8" height="12.60" fill="#EEBCB0"/>
<rect x="384.60" y="291.99" width="1.4" height="12.60" fill="#BEB4E4"/>
<rect x="386.70" y="291.99" width="0.8" height="12.60" fill="#F6D9D2"/>
<rect x="388.50" y="291.99" width="1.4" height="12.60" fill="#E09080"/>
<rect x="393.10" y="291.99" width="0.9" height="12.60" fill="#9C8CD4"/>
<rect x="355.30" y="304.59" width="1.4" height="12.60" fill="#F6D9D2"/>
<rect x="359.90" y="304.59" width="0.8" height="12.60" fill="#F6D9D2"/>
<rect x="362.40" y="304.59" width="0.8" height="12.60" fill="#F6D9D2"/>
<rect x="365.30" y="304.59" width="0.8" height="12.60" fill="#DCD6F2"/>
<rect x="368.10" y="304.59" width="1.5" height="12.60" fill="#F6D9D2"/>
<rect x="371.00" y="304.59" width="3.6" height="12.60" fill="#DCD6F2"/>
<rect x="377.40" y="304.59" width="0.8" height="12.60" fill="#F6D9D2"/>
<rect x="381.70" y="304.59" width="0.8" height="12.60" fill="#BEB4E4"/>
<rect x="383.10" y="304.59" width="1.5" height="12.60" fill="#F6D9D2"/>
<rect x="388.90" y="304.59" width="1.0" height="12.60" fill="#F6D9D2"/>
<rect x="393.10" y="304.59" width="0.8" height="12.60" fill="#BEB4E4"/>
<rect x="396.70" y="279.39" width="1.1" height="12.60" fill="#CC6650"/>
<rect x="399.90" y="279.39" width="0.8" height="12.60" fill="#DCD6F2"/>
<rect x="404.20" y="279.39" width="1.1" height="12.60" fill="#DCD6F2"/>
<rect x="406.00" y="279.39" width="1.4" height="12.60" fill="#BEB4E4"/>
<rect x="408.10" y="279.39" width="0.8" height="12.60" fill="#EEBCB0"/>
<rect x="409.60" y="279.39" width="1.0" height="12.60" fill="#D0A0C0"/>
<rect x="411.40" y="279.39" width="1.8" height="12.60" fill="#8A3060"/>
<rect x="413.10" y="279.39" width="0.8" height="12.60" fill="#3C2C9C"/>
<rect x="417.10" y="279.39" width="1.4" height="12.60" fill="#8A6AA0"/>
<rect x="422.40" y="279.39" width="2.2" height="12.60" fill="#BEB4E4"/>
<rect x="426.00" y="279.39" width="1.4" height="12.60" fill="#DCD6F2"/>
<rect x="428.10" y="279.39" width="1.5" height="12.60" fill="#BEB4E4"/>
<rect x="430.30" y="279.39" width="2.5" height="12.60" fill="#9C8CD4"/>
<rect x="433.10" y="279.39" width="0.8" height="12.60" fill="#F6D9D2"/>
<rect x="434.20" y="279.39" width="1.1" height="12.60" fill="#9C8CD4"/>
<rect x="436.00" y="279.39" width="1.1" height="12.60" fill="#9C8CD4"/>
<rect x="440.30" y="279.39" width="0.8" height="12.60" fill="#DCD6F2"/>
<rect x="396.00" y="291.99" width="1.8" height="12.60" fill="#EEBCB0"/>
<rect x="399.20" y="291.99" width="0.8" height="12.60" fill="#EEEBF8"/>
<rect x="406.00" y="291.99" width="1.8" height="12.60" fill="#BEB4E4"/>
<rect x="408.10" y="291.99" width="1.1" height="12.60" fill="#EEBCB0"/>
<rect x="410.30" y="291.99" width="0.8" height="12.60" fill="#F6D9D2"/>
<rect x="412.10" y="291.99" width="1.0" height="12.60" fill="#EEBCB0"/>
<rect x="413.10" y="291.99" width="0.8" height="12.60" fill="#9C8CD4"/>
<rect x="417.10" y="291.99" width="1.0" height="12.60" fill="#BEB4E4"/>
<rect x="422.40" y="291.99" width="2.2" height="12.60" fill="#DCD6F2"/>
<rect x="427.80" y="291.99" width="1.4" height="12.60" fill="#7060BC"/>
<rect x="431.70" y="291.99" width="0.8" height="12.60" fill="#DCD6F2"/>
<rect x="433.50" y="291.99" width="0.8" height="12.60" fill="#F6D9D2"/>
<rect x="436.00" y="291.99" width="1.1" height="12.60" fill="#BEB4E4"/>
<rect x="396.70" y="304.59" width="1.1" height="12.60" fill="#F6D9D2"/>
<rect x="406.40" y="304.59" width="1.4" height="12.60" fill="#DCD6F2"/>
<rect x="408.90" y="304.59" width="0.8" height="12.60" fill="#FBEDEA"/>
<rect x="413.50" y="304.59" width="0.8" height="12.60" fill="#DCD6F2"/>
<rect x="414.60" y="304.59" width="0.8" height="12.60" fill="#F6D9D2"/>
<rect x="417.40" y="304.59" width="0.8" height="12.60" fill="#DCD6F2"/>
<rect x="420.30" y="304.59" width="0.8" height="12.60" fill="#F6D9D2"/>
<rect x="422.40" y="304.59" width="2.2" height="12.60" fill="#DCD6F2"/>
<rect x="427.40" y="304.59" width="1.5" height="12.60" fill="#F6D9D2"/>
<rect x="431.70" y="304.59" width="1.4" height="12.60" fill="#DCD6F2"/>
<rect x="434.60" y="304.59" width="0.8" height="12.60" fill="#DCD6F2"/>
<rect x="574.20" y="279.39" width="0.8" height="12.60" fill="#BEB4E4"/>
<rect x="579.40" y="279.39" width="1.4" height="12.60" fill="#DCD6F2"/>
<rect x="581.90" y="279.39" width="1.0" height="12.60" fill="#9C8CD4"/>
<rect x="589.00" y="279.39" width="1.0" height="12.60" fill="#BEB4E4"/>
<rect x="590.80" y="279.39" width="1.0" height="12.60" fill="#DCD6F2"/>
<rect x="593.30" y="279.39" width="2.1" height="12.60" fill="#7060BC"/>
<rect x="595.40" y="279.39" width="1.4" height="12.60" fill="#3C2C9C"/>
<rect x="597.90" y="279.39" width="1.4" height="12.60" fill="#1A0A85"/>
<rect x="600.80" y="279.39" width="1.0" height="12.60" fill="#9C8CD4"/>
<rect x="602.20" y="279.39" width="1.8" height="12.60" fill="#9C8CD4"/>
<rect x="604.70" y="279.39" width="1.0" height="12.60" fill="#DCD6F2"/>
<rect x="609.00" y="279.39" width="1.0" height="12.60" fill="#9C8CD4"/>
<rect x="611.10" y="279.39" width="0.8" height="12.60" fill="#DCD6F2"/>
<rect x="613.60" y="279.39" width="3.3" height="12.60" fill="#BEB4E4"/>
<rect x="616.90" y="279.39" width="2.0" height="12.60" fill="#DCD6F2"/>
<rect x="574.20" y="291.99" width="0.8" height="12.60" fill="#DCD6F2"/>
<rect x="576.10" y="291.99" width="1.0" height="12.60" fill="#EEEBF8"/>
<rect x="582.20" y="291.99" width="0.8" height="12.60" fill="#EEEBF8"/>
<rect x="589.40" y="291.99" width="0.8" height="12.60" fill="#EEEBF8"/>
<rect x="591.10" y="291.99" width="0.8" height="12.60" fill="#DCD6F2"/>
<rect x="593.30" y="291.99" width="1.8" height="12.60" fill="#9C8CD4"/>
<rect x="595.40" y="291.99" width="1.4" height="12.60" fill="#7060BC"/>
<rect x="597.90" y="291.99" width="1.0" height="12.60" fill="#7060BC"/>
<rect x="601.10" y="291.99" width="0.8" height="12.60" fill="#BEB4E4"/>
<rect x="602.90" y="291.99" width="0.8" height="12.60" fill="#BEB4E4"/>
<rect x="605.40" y="291.99" width="0.8" height="12.60" fill="#EEEBF8"/>
<rect x="609.00" y="291.99" width="1.0" height="12.60" fill="#9C8CD4"/>
<rect x="613.60" y="291.99" width="3.3" height="12.60" fill="#DCD6F2"/>
<rect x="617.60" y="291.99" width="1.4" height="12.60" fill="#F6D9D2"/>
<rect x="592.90" y="304.59" width="1.0" height="12.60" fill="#DCD6F2"/>
<rect x="595.40" y="304.59" width="1.0" height="12.60" fill="#DCD6F2"/>
<rect x="598.30" y="304.59" width="0.8" height="12.60" fill="#BEB4E4"/>
<rect x="601.10" y="304.59" width="0.8" height="12.60" fill="#BEB4E4"/>
<rect x="613.60" y="304.59" width="5.0" height="12.60" fill="#F4EEF4"/>
<line x1="306.5" y1="316.99" x2="306.5" y2="280.54" stroke="#3a3a3a" stroke-width="1.0" stroke-dasharray="2.6 2.0"/>
<line x1="423.0" y1="316.99" x2="423.0" y2="280.54" stroke="#3a3a3a" stroke-width="1.0" stroke-dasharray="2.6 2.0"/>
<line x1="466.0" y1="316.99" x2="466.0" y2="280.54" stroke="#3a3a3a" stroke-width="1.0" stroke-dasharray="2.6 2.0"/>
<line x1="492.0" y1="316.99" x2="492.0" y2="280.54" stroke="#3a3a3a" stroke-width="1.0" stroke-dasharray="2.6 2.0"/>
<line x1="524.5" y1="316.99" x2="524.5" y2="280.54" stroke="#3a3a3a" stroke-width="1.0" stroke-dasharray="2.6 2.0"/>
<line x1="574.5" y1="316.99" x2="574.5" y2="280.54" stroke="#3a3a3a" stroke-width="1.0" stroke-dasharray="2.6 2.0"/>
<line x1="612.5" y1="316.99" x2="612.5" y2="280.54" stroke="#3a3a3a" stroke-width="1.0" stroke-dasharray="2.6 2.0"/>
<line x1="644.5" y1="316.99" x2="644.5" y2="280.54" stroke="#3a3a3a" stroke-width="1.0" stroke-dasharray="2.6 2.0"/>
<rect x="138.67" y="279.96" width="545.75" height="36.65" fill="none" stroke="#3c3c3c" stroke-width="1.15"/>
<text x="82.9" y="347.24" font-size="10.5" text-anchor="end" textLength="46.699999999999996" lengthAdjust="spacingAndGlyphs" fill="#262626" font-family="Liberation Sans, sans-serif">SMZ–TMP</text>
<text x="125.3" y="334.48" font-size="8.3" text-anchor="end" textLength="26.7" lengthAdjust="spacingAndGlyphs" fill="#262626" font-family="Liberation Sans, sans-serif">&lt;1 year</text>
<rect x="128.9" y="331.83" width="1.8" height="0.7" fill="#444"/>
<rect x="131" y="325.88" width="5.5" height="12.65" fill="#E8ECE7"/>
<text x="125.3" y="347.08" font-size="8.3" text-anchor="end" textLength="38.0" lengthAdjust="spacingAndGlyphs" fill="#262626" font-family="Liberation Sans, sans-serif">1–4 years</text>
<rect x="128.9" y="344.43" width="1.8" height="0.7" fill="#444"/>
<rect x="131" y="338.48" width="5.5" height="12.65" fill="#D2E0CF"/>
<text x="125.3" y="359.68" font-size="8.3" text-anchor="end" textLength="38.5" lengthAdjust="spacingAndGlyphs" fill="#262626" font-family="Liberation Sans, sans-serif">4–8 years</text>
<rect x="128.9" y="357.03" width="1.8" height="0.7" fill="#444"/>
<rect x="131" y="351.08" width="5.5" height="12.65" fill="#C3D8BE"/>
<rect x="142.00" y="325.88" width="0.8" height="12.60" fill="#F6D9D2"/>
<rect x="184.50" y="325.88" width="0.8" height="12.60" fill="#F6D9D2"/>
<rect x="278.30" y="325.88" width="0.8" height="12.60" fill="#EEBCB0"/>
<rect x="291.60" y="325.88" width="0.8" height="12.60" fill="#BEB4E4"/>
<rect x="166.70" y="338.48" width="0.8" height="12.60" fill="#FBEDEA"/>
<rect x="198.60" y="338.48" width="0.8" height="12.60" fill="#F6D9D2"/>
<rect x="155.30" y="351.08" width="0.8" height="12.60" fill="#F6D9D2"/>
<rect x="185.30" y="351.08" width="0.8" height="12.60" fill="#EEEBF8"/>
<rect x="336.50" y="325.88" width="0.8" height="12.60" fill="#BEB4E4"/>
<rect x="376.30" y="325.88" width="0.8" height="12.60" fill="#F6D9D2"/>
<rect x="404.50" y="325.88" width="0.8" height="12.60" fill="#BEB4E4"/>
<rect x="406.30" y="325.88" width="0.8" height="12.60" fill="#DCD6F2"/>
<rect x="416.20" y="325.88" width="0.8" height="12.60" fill="#9C8CD4"/>
<rect x="408.20" y="338.48" width="0.8" height="12.60" fill="#FBEDEA"/>
<rect x="452.30" y="338.48" width="0.8" height="12.60" fill="#F6D9D2"/>
<rect x="425.70" y="351.08" width="0.8" height="12.60" fill="#EEBCB0"/>
<rect x="477.30" y="351.08" width="0.8" height="12.60" fill="#F6D9D2"/>
<rect x="584.30" y="325.88" width="0.8" height="12.60" fill="#F6D9D2"/>
<rect x="640.40" y="325.88" width="0.8" height="12.60" fill="#BEB4E4"/>
<rect x="648.40" y="325.88" width="0.8" height="12.60" fill="#9C8CD4"/>
<rect x="599.50" y="351.08" width="0.8" height="12.60" fill="#EEBCB0"/>
<rect x="675.70" y="351.08" width="0.8" height="12.60" fill="#F6D9D2"/>
<rect x="678.30" y="351.08" width="0.8" height="12.60" fill="#F6D9D2"/>
<line x1="306.5" y1="363.48" x2="306.5" y2="327.03" stroke="#3a3a3a" stroke-width="1.0" stroke-dasharray="2.6 2.0"/>
<line x1="423.0" y1="363.48" x2="423.0" y2="327.03" stroke="#3a3a3a" stroke-width="1.0" stroke-dasharray="2.6 2.0"/>
<line x1="466.0" y1="363.48" x2="466.0" y2="327.03" stroke="#3a3a3a" stroke-width="1.0" stroke-dasharray="2.6 2.0"/>
<line x1="492.0" y1="363.48" x2="492.0" y2="327.03" stroke="#3a3a3a" stroke-width="1.0" stroke-dasharray="2.6 2.0"/>
<line x1="524.5" y1="363.48" x2="524.5" y2="327.03" stroke="#3a3a3a" stroke-width="1.0" stroke-dasharray="2.6 2.0"/>
<line x1="574.5" y1="363.48" x2="574.5" y2="327.03" stroke="#3a3a3a" stroke-width="1.0" stroke-dasharray="2.6 2.0"/>
<line x1="612.5" y1="363.48" x2="612.5" y2="327.03" stroke="#3a3a3a" stroke-width="1.0" stroke-dasharray="2.6 2.0"/>
<line x1="644.5" y1="363.48" x2="644.5" y2="327.03" stroke="#3a3a3a" stroke-width="1.0" stroke-dasharray="2.6 2.0"/>
<rect x="138.67" y="326.45" width="545.75" height="36.65" fill="none" stroke="#3c3c3c" stroke-width="1.15"/>
<text x="82.9" y="393.76" font-size="10.5" text-anchor="end" textLength="74.80000000000001" lengthAdjust="spacingAndGlyphs" fill="#262626" font-family="Liberation Sans, sans-serif">Cephalosporins</text>
<text x="125.3" y="380.97" font-size="8.3" text-anchor="end" textLength="26.7" lengthAdjust="spacingAndGlyphs" fill="#262626" font-family="Liberation Sans, sans-serif">&lt;1 year</text>
<rect x="128.9" y="378.32" width="1.8" height="0.7" fill="#444"/>
<rect x="131" y="372.37" width="5.5" height="12.65" fill="#ECEEEB"/>
<text x="125.3" y="393.57" font-size="8.3" text-anchor="end" textLength="38.0" lengthAdjust="spacingAndGlyphs" fill="#262626" font-family="Liberation Sans, sans-serif">1–4 years</text>
<rect x="128.9" y="390.92" width="1.8" height="0.7" fill="#444"/>
<rect x="131" y="384.97" width="5.5" height="12.65" fill="#DAE3D7"/>
<text x="125.3" y="406.17" font-size="8.3" text-anchor="end" textLength="38.5" lengthAdjust="spacingAndGlyphs" fill="#262626" font-family="Liberation Sans, sans-serif">4–8 years</text>
<rect x="128.9" y="403.52" width="1.8" height="0.7" fill="#444"/>
<rect x="131" y="397.57" width="5.5" height="12.65" fill="#C8DAC3"/>
<rect x="213.50" y="372.37" width="0.8" height="12.60" fill="#3C2C9C"/>
<rect x="225.10" y="372.37" width="0.8" height="12.60" fill="#EEBCB0"/>
<rect x="305.90" y="372.37" width="0.8" height="12.60" fill="#E09080"/>
<rect x="311.20" y="372.37" width="0.8" height="12.60" fill="#7060BC"/>
<rect x="319.20" y="372.37" width="0.8" height="12.60" fill="#F6D9D2"/>
<rect x="155.30" y="384.97" width="0.8" height="12.60" fill="#FBEDEA"/>
<rect x="200.40" y="384.97" width="0.8" height="12.60" fill="#F6D9D2"/>
<rect x="275.40" y="384.97" width="0.8" height="12.60" fill="#FBEDEA"/>
<rect x="290.80" y="384.97" width="0.8" height="25.20" fill="#DCD6F2"/>
<rect x="321.30" y="372.37" width="0.8" height="12.60" fill="#F6D9D2"/>
<rect x="325.80" y="372.37" width="0.8" height="12.60" fill="#7060BC"/>
<rect x="340.70" y="372.37" width="0.8" height="12.60" fill="#DCD6F2"/>
<rect x="345.20" y="372.37" width="0.8" height="12.60" fill="#DCD6F2"/>
<rect x="350.60" y="372.37" width="2.5" height="12.60" fill="#9C8CD4"/>
<rect x="355.90" y="372.37" width="0.8" height="12.60" fill="#F6D9D2"/>
<rect x="360.40" y="372.37" width="0.8" height="12.60" fill="#F6D9D2"/>
<rect x="366.50" y="372.37" width="0.8" height="12.60" fill="#7060BC"/>
<rect x="372.60" y="372.37" width="0.8" height="12.60" fill="#9C8CD4"/>
<rect x="376.60" y="372.37" width="0.8" height="12.60" fill="#DCD6F2"/>
<rect x="382.40" y="372.37" width="0.8" height="12.60" fill="#F6D9D2"/>
<rect x="388.50" y="372.37" width="0.8" height="12.60" fill="#CC6650"/>
<rect x="397.60" y="372.37" width="0.8" height="12.60" fill="#CC6650"/>
<rect x="405.00" y="372.37" width="0.8" height="12.60" fill="#DCD6F2"/>
<rect x="412.50" y="372.37" width="0.8" height="12.60" fill="#CC6650"/>
<rect x="495.30" y="372.37" width="0.8" height="12.60" fill="#DCD6F2"/>
<rect x="498.50" y="372.37" width="0.8" height="12.60" fill="#F6D9D2"/>
<rect x="501.50" y="372.37" width="0.8" height="12.60" fill="#F6D9D2"/>
<rect x="321.30" y="384.97" width="0.8" height="12.60" fill="#F6D9D2"/>
<rect x="325.80" y="384.97" width="0.8" height="12.60" fill="#DCD6F2"/>
<rect x="345.20" y="384.97" width="0.8" height="12.60" fill="#EEEBF8"/>
<rect x="354.00" y="384.97" width="0.8" height="12.60" fill="#DCD6F2"/>
<rect x="365.70" y="384.97" width="0.8" height="12.60" fill="#BEB4E4"/>
<rect x="383.20" y="384.97" width="0.8" height="12.60" fill="#FBEDEA"/>
<rect x="397.00" y="384.97" width="0.8" height="12.60" fill="#EEEBF8"/>
<rect x="410.30" y="384.97" width="0.8" height="12.60" fill="#EEEBF8"/>
<rect x="458.70" y="384.97" width="0.8" height="12.60" fill="#FBEDEA"/>
<rect x="553.30" y="372.37" width="0.8" height="12.60" fill="#EEBCB0"/>
<rect x="604.90" y="372.37" width="0.8" height="12.60" fill="#EEBCB0"/>
<rect x="612.10" y="372.37" width="0.8" height="12.60" fill="#F6D9D2"/>
<rect x="632.40" y="372.37" width="0.8" height="12.60" fill="#3C2C9C"/>
<rect x="642.30" y="372.37" width="0.8" height="12.60" fill="#EEBCB0"/>
<rect x="544.20" y="397.57" width="0.8" height="12.60" fill="#F6D9D2"/>
<line x1="306.5" y1="409.97" x2="306.5" y2="373.52" stroke="#3a3a3a" stroke-width="1.0" stroke-dasharray="2.6 2.0"/>
<line x1="423.0" y1="409.97" x2="423.0" y2="373.52" stroke="#3a3a3a" stroke-width="1.0" stroke-dasharray="2.6 2.0"/>
<line x1="466.0" y1="409.97" x2="466.0" y2="373.52" stroke="#3a3a3a" stroke-width="1.0" stroke-dasharray="2.6 2.0"/>
<line x1="492.0" y1="409.97" x2="492.0" y2="373.52" stroke="#3a3a3a" stroke-width="1.0" stroke-dasharray="2.6 2.0"/>
<line x1="524.5" y1="409.97" x2="524.5" y2="373.52" stroke="#3a3a3a" stroke-width="1.0" stroke-dasharray="2.6 2.0"/>
<line x1="574.5" y1="409.97" x2="574.5" y2="373.52" stroke="#3a3a3a" stroke-width="1.0" stroke-dasharray="2.6 2.0"/>
<line x1="612.5" y1="409.97" x2="612.5" y2="373.52" stroke="#3a3a3a" stroke-width="1.0" stroke-dasharray="2.6 2.0"/>
<line x1="644.5" y1="409.97" x2="644.5" y2="373.52" stroke="#3a3a3a" stroke-width="1.0" stroke-dasharray="2.6 2.0"/>
<rect x="138.67" y="372.94" width="545.75" height="36.65" fill="none" stroke="#3c3c3c" stroke-width="1.15"/>
<text x="82.9" y="440.28" font-size="10.5" text-anchor="end" textLength="52.699999999999996" lengthAdjust="spacingAndGlyphs" fill="#262626" font-family="Liberation Sans, sans-serif">Macrolides</text>
<text x="125.3" y="427.46" font-size="8.3" text-anchor="end" textLength="26.7" lengthAdjust="spacingAndGlyphs" fill="#262626" font-family="Liberation Sans, sans-serif">&lt;1 year</text>
<rect x="128.9" y="424.81" width="1.8" height="0.7" fill="#444"/>
<rect x="131" y="418.86" width="5.5" height="12.65" fill="#ECEEEB"/>
<text x="125.3" y="440.06" font-size="8.3" text-anchor="end" textLength="38.0" lengthAdjust="spacingAndGlyphs" fill="#262626" font-family="Liberation Sans, sans-serif">1–4 years</text>
<rect x="128.9" y="437.41" width="1.8" height="0.7" fill="#444"/>
<rect x="131" y="431.46" width="5.5" height="12.65" fill="#DCE5DA"/>
<text x="125.3" y="452.66" font-size="8.3" text-anchor="end" textLength="38.5" lengthAdjust="spacingAndGlyphs" fill="#262626" font-family="Liberation Sans, sans-serif">4–8 years</text>
<rect x="128.9" y="450.01" width="1.8" height="0.7" fill="#444"/>
<rect x="131" y="444.06" width="5.5" height="12.65" fill="#CEDDC9"/>
<rect x="162.70" y="418.86" width="0.8" height="12.60" fill="#EEBCB0"/>
<rect x="198.60" y="418.86" width="0.8" height="12.60" fill="#F6D9D2"/>
<rect x="223.50" y="418.86" width="0.8" height="12.60" fill="#EEBCB0"/>
<rect x="237.60" y="418.86" width="0.8" height="12.60" fill="#F6D9D2"/>
<rect x="286.20" y="418.86" width="0.8" height="12.60" fill="#7060BC"/>
<rect x="318.70" y="418.86" width="0.8" height="12.60" fill="#E09080"/>
<rect x="153.40" y="431.46" width="0.8" height="12.60" fill="#FBEDEA"/>
<rect x="177.30" y="431.46" width="0.8" height="12.60" fill="#7060BC"/>
<rect x="181.80" y="431.46" width="0.8" height="12.60" fill="#EEBCB0"/>
<rect x="199.60" y="431.46" width="0.8" height="12.60" fill="#FBEDEA"/>
<rect x="204.40" y="431.46" width="0.8" height="12.60" fill="#9C8CD4"/>
<rect x="240.30" y="431.46" width="0.8" height="12.60" fill="#DCD6F2"/>
<rect x="270.80" y="431.46" width="0.8" height="12.60" fill="#EEBCB0"/>
<rect x="169.30" y="444.06" width="0.8" height="12.60" fill="#DCD6F2"/>
<rect x="171.20" y="444.06" width="0.8" height="12.60" fill="#BEB4E4"/>
<rect x="173.10" y="444.06" width="0.8" height="12.60" fill="#EEBCB0"/>
<rect x="207.60" y="444.06" width="0.8" height="12.60" fill="#BEB4E4"/>
<rect x="211.10" y="444.06" width="0.8" height="12.60" fill="#FBEDEA"/>
<rect x="232.30" y="444.06" width="0.8" height="12.60" fill="#F6D9D2"/>
<rect x="242.90" y="444.06" width="0.8" height="12.60" fill="#FBEDEA"/>
<rect x="257.60" y="444.06" width="0.8" height="12.60" fill="#F6D9D2"/>
<rect x="300.60" y="444.06" width="0.8" height="12.60" fill="#F6D9D2"/>
<rect x="302.70" y="444.06" width="0.8" height="12.60" fill="#F6D9D2"/>
<rect x="321.30" y="418.86" width="0.8" height="12.60" fill="#CC6650"/>
<rect x="328.50" y="418.86" width="0.8" height="12.60" fill="#9C8CD4"/>
<rect x="358.50" y="418.86" width="0.8" height="12.60" fill="#E09080"/>
<rect x="401.80" y="418.86" width="0.8" height="12.60" fill="#BEB4E4"/>
<rect x="408.50" y="418.86" width="0.8" height="12.60" fill="#EEBCB0"/>
<rect x="427.60" y="418.86" width="0.8" height="12.60" fill="#F6D9D2"/>
<rect x="320.80" y="431.46" width="0.8" height="12.60" fill="#FBEDEA"/>
<rect x="325.80" y="431.46" width="0.8" height="12.60" fill="#FBEDEA"/>
<rect x="347.40" y="431.46" width="0.8" height="12.60" fill="#DCD6F2"/>
<rect x="355.90" y="431.46" width="0.8" height="12.60" fill="#F6D9D2"/>
<rect x="357.20" y="431.46" width="0.8" height="12.60" fill="#DCD6F2"/>
<rect x="382.40" y="431.46" width="0.8" height="12.60" fill="#F6D9D2"/>
<rect x="384.30" y="431.46" width="0.8" height="12.60" fill="#EEBCB0"/>
<rect x="389.60" y="431.46" width="0.8" height="12.60" fill="#F6D9D2"/>
<rect x="411.70" y="431.46" width="0.8" height="12.60" fill="#BEB4E4"/>
<rect x="416.20" y="431.46" width="0.8" height="12.60" fill="#F6D9D2"/>
<rect x="436.40" y="431.46" width="0.8" height="12.60" fill="#DCD6F2"/>
<rect x="462.90" y="431.46" width="0.8" height="12.60" fill="#F6D9D2"/>
<rect x="334.60" y="444.06" width="0.8" height="12.60" fill="#F6D9D2"/>
<rect x="371.30" y="444.06" width="0.8" height="12.60" fill="#FBEDEA"/>
<rect x="377.90" y="444.06" width="0.8" height="12.60" fill="#F6D9D2"/>
<rect x="383.20" y="444.06" width="0.8" height="12.60" fill="#FBEDEA"/>
<rect x="395.70" y="444.06" width="0.8" height="12.60" fill="#FBEDEA"/>
<rect x="398.40" y="444.06" width="0.8" height="12.60" fill="#FBEDEA"/>
<rect x="431.60" y="444.06" width="2.5" height="12.60" fill="#DCD6F2"/>
<rect x="492.70" y="444.06" width="0.8" height="12.60" fill="#F6D9D2"/>
<rect x="574.70" y="418.86" width="0.8" height="12.60" fill="#7060BC"/>
<rect x="603.00" y="418.86" width="0.8" height="12.60" fill="#BEB4E4"/>
<rect x="604.90" y="418.86" width="0.8" height="12.60" fill="#BEB4E4"/>
<rect x="609.40" y="418.86" width="0.8" height="12.60" fill="#9C8CD4"/>
<rect x="611.00" y="418.86" width="0.8" height="12.60" fill="#BEB4E4"/>
<rect x="619.60" y="418.86" width="0.8" height="12.60" fill="#E09080"/>
<rect x="628.90" y="418.86" width="0.8" height="12.60" fill="#BEB4E4"/>
<rect x="638.30" y="418.86" width="2.6" height="12.60" fill="#7060BC"/>
<rect x="649.70" y="418.86" width="0.8" height="12.60" fill="#BEB4E4"/>
<rect x="659.60" y="418.86" width="0.8" height="12.60" fill="#CC6650"/>
<rect x="680.50" y="418.86" width="0.8" height="12.60" fill="#F6D9D2"/>
<rect x="519.40" y="431.46" width="0.8" height="12.60" fill="#FBEDEA"/>
<rect x="549.60" y="431.46" width="0.8" height="12.60" fill="#F6D9D2"/>
<rect x="591.50" y="431.46" width="0.8" height="12.60" fill="#DCD6F2"/>
<rect x="594.20" y="431.46" width="0.8" height="12.60" fill="#DCD6F2"/>
<rect x="596.80" y="431.46" width="0.8" height="12.60" fill="#DCD6F2"/>
<rect x="600.90" y="431.46" width="0.8" height="12.60" fill="#DCD6F2"/>
<rect x="604.10" y="431.46" width="0.8" height="12.60" fill="#DCD6F2"/>
<rect x="617.40" y="431.46" width="0.8" height="12.60" fill="#F6D9D2"/>
<rect x="629.70" y="431.46" width="0.8" height="12.60" fill="#EEEBF8"/>
<rect x="638.30" y="431.46" width="0.8" height="12.60" fill="#DCD6F2"/>
<rect x="640.90" y="431.46" width="0.8" height="12.60" fill="#EEEBF8"/>
<rect x="649.50" y="431.46" width="0.8" height="12.60" fill="#DCD6F2"/>
<rect x="672.50" y="431.46" width="0.8" height="12.60" fill="#EEEBF8"/>
<rect x="596.80" y="444.06" width="0.8" height="12.60" fill="#DCD6F2"/>
<rect x="600.90" y="444.06" width="0.8" height="12.60" fill="#DCD6F2"/>
<rect x="604.10" y="444.06" width="0.8" height="12.60" fill="#EEEBF8"/>
<rect x="619.00" y="444.06" width="0.8" height="12.60" fill="#F6D9D2"/>
<rect x="652.90" y="444.06" width="0.8" height="12.60" fill="#EEEBF8"/>
<rect x="664.40" y="444.06" width="0.8" height="12.60" fill="#F6D9D2"/>
<line x1="306.5" y1="456.46" x2="306.5" y2="420.01" stroke="#3a3a3a" stroke-width="1.0" stroke-dasharray="2.6 2.0"/>
<line x1="423.0" y1="456.46" x2="423.0" y2="420.01" stroke="#3a3a3a" stroke-width="1.0" stroke-dasharray="2.6 2.0"/>
<line x1="466.0" y1="456.46" x2="466.0" y2="420.01" stroke="#3a3a3a" stroke-width="1.0" stroke-dasharray="2.6 2.0"/>
<line x1="492.0" y1="456.46" x2="492.0" y2="420.01" stroke="#3a3a3a" stroke-width="1.0" stroke-dasharray="2.6 2.0"/>
<line x1="524.5" y1="456.46" x2="524.5" y2="420.01" stroke="#3a3a3a" stroke-width="1.0" stroke-dasharray="2.6 2.0"/>
<line x1="574.5" y1="456.46" x2="574.5" y2="420.01" stroke="#3a3a3a" stroke-width="1.0" stroke-dasharray="2.6 2.0"/>
<line x1="612.5" y1="456.46" x2="612.5" y2="420.01" stroke="#3a3a3a" stroke-width="1.0" stroke-dasharray="2.6 2.0"/>
<line x1="644.5" y1="456.46" x2="644.5" y2="420.01" stroke="#3a3a3a" stroke-width="1.0" stroke-dasharray="2.6 2.0"/>
<rect x="138.67" y="419.44" width="545.75" height="36.65" fill="none" stroke="#3c3c3c" stroke-width="1.15"/>
<text x="82.9" y="486.80" font-size="10.5" text-anchor="end" textLength="55.5" lengthAdjust="spacingAndGlyphs" fill="#262626" font-family="Liberation Sans, sans-serif">Amox–clav.</text>
<text x="125.3" y="473.95" font-size="8.3" text-anchor="end" textLength="26.7" lengthAdjust="spacingAndGlyphs" fill="#262626" font-family="Liberation Sans, sans-serif">&lt;1 year</text>
<rect x="128.9" y="471.30" width="1.8" height="0.7" fill="#444"/>
<rect x="131" y="465.35" width="5.5" height="12.65" fill="#EEF0ED"/>
<text x="125.3" y="486.55" font-size="8.3" text-anchor="end" textLength="38.0" lengthAdjust="spacingAndGlyphs" fill="#262626" font-family="Liberation Sans, sans-serif">1–4 years</text>
<rect x="128.9" y="483.90" width="1.8" height="0.7" fill="#444"/>
<rect x="131" y="477.95" width="5.5" height="12.65" fill="#E4EAE2"/>
<text x="125.3" y="499.15" font-size="8.3" text-anchor="end" textLength="38.5" lengthAdjust="spacingAndGlyphs" fill="#262626" font-family="Liberation Sans, sans-serif">4–8 years</text>
<rect x="128.9" y="496.50" width="1.8" height="0.7" fill="#444"/>
<rect x="131" y="490.55" width="5.5" height="12.65" fill="#DDE6DB"/>
<rect x="210.50" y="465.35" width="0.8" height="12.60" fill="#F6D9D2"/>
<rect x="357.20" y="465.35" width="0.8" height="12.60" fill="#F6D9D2"/>
<rect x="409.80" y="465.35" width="0.8" height="12.60" fill="#EEEBF8"/>
<rect x="212.10" y="477.95" width="0.8" height="12.60" fill="#BEB4E4"/>
<rect x="269.50" y="477.95" width="0.8" height="12.60" fill="#FBEDEA"/>
<rect x="310.60" y="477.95" width="0.8" height="12.60" fill="#DCD6F2"/>
<rect x="338.50" y="477.95" width="0.8" height="12.60" fill="#DCD6F2"/>
<rect x="361.20" y="477.95" width="0.8" height="12.60" fill="#FBEDEA"/>
<rect x="374.00" y="477.95" width="0.8" height="12.60" fill="#BEB4E4"/>
<rect x="332.50" y="490.55" width="0.8" height="12.60" fill="#EEBCB0"/>
<rect x="384.30" y="490.55" width="0.8" height="12.60" fill="#EEBCB0"/>
<rect x="423.80" y="465.35" width="0.8" height="12.60" fill="#EEBCB0"/>
<rect x="459.80" y="477.95" width="0.8" height="12.60" fill="#F6D9D2"/>
<rect x="534.20" y="477.95" width="0.8" height="12.60" fill="#F6D9D2"/>
<rect x="548.20" y="477.95" width="0.8" height="12.60" fill="#F6D9D2"/>
<rect x="617.00" y="477.95" width="0.8" height="12.60" fill="#F6D9D2"/>
<rect x="665.40" y="477.95" width="0.8" height="12.60" fill="#F6D9D2"/>
<rect x="547.00" y="490.55" width="2.0" height="12.60" fill="#DCD6F2"/>
<rect x="655.00" y="490.55" width="0.8" height="12.60" fill="#EEEBF8"/>
<line x1="306.5" y1="502.95" x2="306.5" y2="466.50" stroke="#3a3a3a" stroke-width="1.0" stroke-dasharray="2.6 2.0"/>
<line x1="423.0" y1="502.95" x2="423.0" y2="466.50" stroke="#3a3a3a" stroke-width="1.0" stroke-dasharray="2.6 2.0"/>
<line x1="466.0" y1="502.95" x2="466.0" y2="466.50" stroke="#3a3a3a" stroke-width="1.0" stroke-dasharray="2.6 2.0"/>
<line x1="492.0" y1="502.95" x2="492.0" y2="466.50" stroke="#3a3a3a" stroke-width="1.0" stroke-dasharray="2.6 2.0"/>
<line x1="524.5" y1="502.95" x2="524.5" y2="466.50" stroke="#3a3a3a" stroke-width="1.0" stroke-dasharray="2.6 2.0"/>
<line x1="574.5" y1="502.95" x2="574.5" y2="466.50" stroke="#3a3a3a" stroke-width="1.0" stroke-dasharray="2.6 2.0"/>
<line x1="612.5" y1="502.95" x2="612.5" y2="466.50" stroke="#3a3a3a" stroke-width="1.0" stroke-dasharray="2.6 2.0"/>
<line x1="644.5" y1="502.95" x2="644.5" y2="466.50" stroke="#3a3a3a" stroke-width="1.0" stroke-dasharray="2.6 2.0"/>
<rect x="138.67" y="465.93" width="545.75" height="36.65" fill="none" stroke="#3c3c3c" stroke-width="1.15"/>
<rect x="138.3" y="503.0" width="167.90" height="10.90" fill="#00BF7D"/>
<rect x="306.2" y="503.0" width="117.10" height="10.90" fill="#A3A500"/>
<rect x="423.3" y="503.0" width="42.50" height="10.90" fill="#F8766D"/>
<rect x="465.8" y="503.0" width="26.10" height="10.90" fill="#E76BF3"/>
<rect x="491.9" y="503.0" width="32.60" height="10.90" fill="#00B0F6"/>
<rect x="138.3" y="514.7" width="386.20" height="10.10" fill="#00BF7D"/>
<rect x="524.5" y="514.7" width="50.00" height="10.10" fill="#A3A500"/>
<rect x="574.5" y="514.7" width="38.10" height="10.10" fill="#00B0F6"/>
<rect x="612.6" y="514.7" width="32.00" height="10.10" fill="#F8766D"/>
<rect x="644.6" y="514.7" width="40.40" height="10.10" fill="#E76BF3"/>
<text x="223.25" y="511.60" font-size="9.2" text-anchor="middle" fill="#262626" font-family="Liberation Sans, sans-serif">Oscillospirales</text>
<text x="365.75" y="511.60" font-size="9.2" text-anchor="middle" fill="#262626" font-family="Liberation Sans, sans-serif">Lachnospirales</text>
<text x="445.55" y="511.60" font-size="9.2" text-anchor="middle" fill="#262626" font-family="Liberation Sans, sans-serif">Christens.</text>
<text x="479.85" y="511.60" font-size="9.2" text-anchor="middle" fill="#262626" font-family="Liberation Sans, sans-serif">TANB77</text>
<text x="509.20" y="511.60" font-size="9.2" text-anchor="middle" fill="#262626" font-family="Liberation Sans, sans-serif">Other</text>
<text x="332.40" y="522.60" font-size="9.2" text-anchor="middle" fill="#262626" font-family="Liberation Sans, sans-serif">Bacillota A</text>
<text x="550.50" y="522.60" font-size="9.2" text-anchor="middle" fill="#262626" font-family="Liberation Sans, sans-serif">Bacillota</text>
<text x="594.55" y="522.60" font-size="9.2" text-anchor="middle" fill="#262626" font-family="Liberation Sans, sans-serif">Bacteroid.</text>
<text x="629.60" y="522.60" font-size="9.2" text-anchor="middle" fill="#262626" font-family="Liberation Sans, sans-serif">Actino.</text>
<text x="665.80" y="522.60" font-size="9.2" text-anchor="middle" fill="#262626" font-family="Liberation Sans, sans-serif">Other</text>
<text x="134" y="512" font-size="10.5" text-anchor="end" fill="#262626" font-family="Liberation Sans, sans-serif">Order</text>
<text x="134.6" y="522.7" font-size="10.5" text-anchor="end" fill="#262626" font-family="Liberation Sans, sans-serif">Phylum</text>
<defs><linearGradient id="gg" x1="0" x2="1" y1="0" y2="0"><stop offset="0" stop-color="#F2F2F2"/><stop offset="1" stop-color="#006400"/></linearGradient>
<linearGradient id="rg" x1="0" x2="1" y1="0" y2="0"><stop offset="0" stop-color="#0E0080"/><stop offset="0.25" stop-color="#8A7AC4"/><stop offset="0.48" stop-color="#F4F2FA"/><stop offset="0.5" stop-color="#FFFFFF"/><stop offset="0.52" stop-color="#FCF0EC"/><stop offset="0.75" stop-color="#CF6F5B"/><stop offset="1" stop-color="#8B0000"/></linearGradient></defs>
<text x="251.5" y="550.3" font-size="10.5" textLength="77.6" lengthAdjust="spacingAndGlyphs" fill="#262626" font-family="Liberation Sans, sans-serif">Proportion users</text>
<rect x="252.1" y="556" width="72.3" height="8.8" fill="url(#gg)"/>
<rect x="276.1" y="556" width="0.8" height="8.8" fill="#fff"/>
<rect x="299.70000000000005" y="556" width="0.8" height="8.8" fill="#fff"/>
<text x="357.8" y="550.5" font-size="10.5" textLength="183.3" lengthAdjust="spacingAndGlyphs" fill="#262626" font-family="Liberation Sans, sans-serif">Regression coefficient (<tspan font-style="italic">q</tspan>-value &lt; 0.05)</text>
<rect x="365.2" y="556" width="181.7" height="8.8" fill="url(#rg)"/>
<rect x="409.8" y="556" width="0.8" height="8.8" fill="#fff"/>
<rect x="500.90000000000003" y="556" width="0.8" height="8.8" fill="#fff"/>
<text transform="translate(257.7,572.5) rotate(-45)" font-size="9.3" text-anchor="end" fill="#262626" font-family="Liberation Sans, sans-serif">0</text>
<text transform="translate(281.3,572.5) rotate(-45)" font-size="9.3" text-anchor="end" fill="#262626" font-family="Liberation Sans, sans-serif">0.05</text>
<text transform="translate(307.40000000000003,572.5) rotate(-45)" font-size="9.3" text-anchor="end" fill="#262626" font-family="Liberation Sans, sans-serif">0.10</text>
<text transform="translate(330.7,572.5) rotate(-45)" font-size="9.3" text-anchor="end" fill="#262626" font-family="Liberation Sans, sans-serif">&gt;0.15</text>
<text transform="translate(371.5,572.5) rotate(-45)" font-size="9.3" text-anchor="end" fill="#262626" font-family="Liberation Sans, sans-serif">&lt;−1.00</text>
<text transform="translate(415.3,572.5) rotate(-45)" font-size="9.3" text-anchor="end" fill="#262626" font-family="Liberation Sans, sans-serif">−0.50</text>
<text transform="translate(457.3,572.5) rotate(-45)" font-size="9.3" text-anchor="end" fill="#262626" font-family="Liberation Sans, sans-serif">−0.04</text>
<text transform="translate(467.0,572.5) rotate(-45)" font-size="9.3" text-anchor="end" fill="#262626" font-family="Liberation Sans, sans-serif">0.04</text>
<text transform="translate(508.0,572.5) rotate(-45)" font-size="9.3" text-anchor="end" fill="#262626" font-family="Liberation Sans, sans-serif">0.50</text>
<text transform="translate(550.6999999999999,572.5) rotate(-45)" font-size="9.3" text-anchor="end" fill="#262626" font-family="Liberation Sans, sans-serif">&gt;1.00</text>
</svg></body></html>
